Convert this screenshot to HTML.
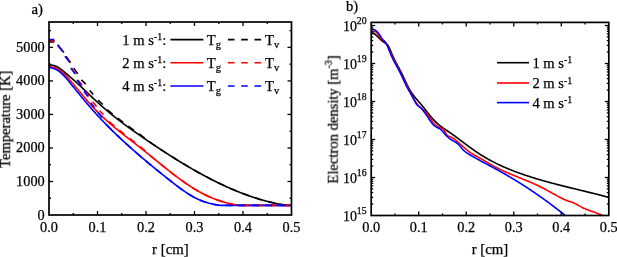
<!DOCTYPE html>
<html><head><meta charset="utf-8"><style>
html,body{margin:0;padding:0;background:#fff;width:617px;height:257px;overflow:hidden}
svg{display:block}
text{font-family:"Liberation Serif",serif;fill:#000;stroke:#000;stroke-width:0.25px;will-change:transform}
</style></head><body>
<svg xmlns="http://www.w3.org/2000/svg" width="617" height="257" viewBox="0 0 617 257">
<defs><clipPath id="cl"><rect x="49.0" y="22.0" width="242.5" height="193.0"/></clipPath><clipPath id="cr"><rect x="371.2" y="22.4" width="237.59999999999997" height="193.1"/></clipPath></defs>
<g clip-path="url(#cl)">
<path d="M49.00,65.00 L49.50,65.00 L50.00,65.00 L50.50,65.01 L51.00,65.05 L51.50,65.11 L52.00,65.19 L52.50,65.28 L53.00,65.38 L53.50,65.48 L54.00,65.59 L54.50,65.73 L55.00,65.90 L55.50,66.09 L56.00,66.30 L56.50,66.52 L57.00,66.76 L57.50,67.00 L58.00,67.27 L58.50,67.57 L59.00,67.90 L59.50,68.24 L60.00,68.60 L60.50,68.97 L61.00,69.35 L61.50,69.73 L62.00,70.10 L62.50,70.48 L63.00,70.87 L63.50,71.27 L64.00,71.68 L64.50,72.09 L65.00,72.52 L65.50,72.95 L66.00,73.38 L66.50,73.81 L67.00,74.23 L67.50,74.65 L68.00,75.08 L68.50,75.51 L69.00,75.94 L69.50,76.38 L70.00,76.82 L70.50,77.26 L71.00,77.71 L71.50,78.15 L72.00,78.58 L72.50,79.02 L73.00,79.45 L73.50,79.89 L74.00,80.33 L74.50,80.77 L75.00,81.21 L75.50,81.66 L76.00,82.11 L76.50,82.56 L77.00,83.01 L77.50,83.47 L78.00,83.93 L78.50,84.38 L79.00,84.84 L79.50,85.31 L80.00,85.77 L80.50,86.23 L81.00,86.70 L81.50,87.17 L82.00,87.63 L82.50,88.10 L83.00,88.57 L83.50,89.05 L84.00,89.52 L84.50,89.99 L85.00,90.46 L85.50,90.94 L86.00,91.41 L86.50,91.89 L87.00,92.36 L87.50,92.83 L88.00,93.31 L88.50,93.79 L89.00,94.26 L89.50,94.74 L90.00,95.21 L90.50,95.68 L91.00,96.16 L91.50,96.63 L92.00,97.10 L92.50,97.58 L93.00,98.05 L93.50,98.52 L94.00,98.99 L94.50,99.46 L95.00,99.93 L95.50,100.39 L96.00,100.86 L96.50,101.32 L97.00,101.78 L97.50,102.24 L98.00,102.70 L98.50,103.16 L99.00,103.62 L99.50,104.07 L100.00,104.52 L100.50,104.97 L101.00,105.42 L101.50,105.87 L102.00,106.31 L102.50,106.75 L103.00,107.19 L103.50,107.63 L104.00,108.07 L104.50,108.50 L105.00,108.93 L105.50,109.36 L106.00,109.79 L106.50,110.21 L107.00,110.64 L107.50,111.06 L108.00,111.48 L108.50,111.90 L109.00,112.31 L109.50,112.73 L110.00,113.14 L110.50,113.55 L111.00,113.96 L111.50,114.37 L112.00,114.78 L112.50,115.18 L113.00,115.58 L113.50,115.98 L114.00,116.38 L114.50,116.78 L115.00,117.18 L115.50,117.57 L116.00,117.96 L116.50,118.36 L117.00,118.75 L117.50,119.14 L118.00,119.52 L118.50,119.91 L119.00,120.29 L119.50,120.68 L120.00,121.06 L120.50,121.44 L121.00,121.82 L121.50,122.20 L122.00,122.57 L122.50,122.95 L123.00,123.32 L123.50,123.70 L124.00,124.07 L124.50,124.44 L125.00,124.81 L125.50,125.18 L126.00,125.54 L126.50,125.91 L127.00,126.28 L127.50,126.64 L128.00,127.00 L128.50,127.37 L129.00,127.73 L129.50,128.09 L130.00,128.45 L130.50,128.81 L131.00,129.16 L131.50,129.52 L132.00,129.88 L132.50,130.23 L133.00,130.59 L133.50,130.94 L134.00,131.29 L134.50,131.65 L135.00,132.00 L135.50,132.35 L136.00,132.70 L136.50,133.05 L137.00,133.40 L137.50,133.75 L138.00,134.10 L138.50,134.44 L139.00,134.79 L139.50,135.14 L140.00,135.48 L140.50,135.83 L141.00,136.18 L141.50,136.52 L142.00,136.86 L142.50,137.21 L143.00,137.55 L143.50,137.90 L144.00,138.24 L144.50,138.58 L145.00,138.92 L145.50,139.27 L146.00,139.61 L146.50,139.95 L147.00,140.29 L147.50,140.63 L148.00,140.97 L148.50,141.31 L149.00,141.65 L149.50,141.99 L150.00,142.32 L150.50,142.66 L151.00,143.00 L151.50,143.34 L152.00,143.67 L152.50,144.01 L153.00,144.35 L153.50,144.68 L154.00,145.02 L154.50,145.35 L155.00,145.68 L155.50,146.02 L156.00,146.35 L156.50,146.68 L157.00,147.01 L157.50,147.35 L158.00,147.68 L158.50,148.01 L159.00,148.34 L159.50,148.67 L160.00,149.00 L160.50,149.32 L161.00,149.65 L161.50,149.98 L162.00,150.31 L162.50,150.63 L163.00,150.96 L163.50,151.28 L164.00,151.61 L164.50,151.93 L165.00,152.26 L165.50,152.58 L166.00,152.90 L166.50,153.23 L167.00,153.55 L167.50,153.87 L168.00,154.19 L168.50,154.51 L169.00,154.83 L169.50,155.15 L170.00,155.47 L170.50,155.78 L171.00,156.10 L171.50,156.42 L172.00,156.73 L172.50,157.05 L173.00,157.36 L173.50,157.68 L174.00,157.99 L174.50,158.30 L175.00,158.61 L175.50,158.93 L176.00,159.24 L176.50,159.55 L177.00,159.86 L177.50,160.17 L178.00,160.47 L178.50,160.78 L179.00,161.09 L179.50,161.40 L180.00,161.70 L180.50,162.01 L181.00,162.31 L181.50,162.62 L182.00,162.92 L182.50,163.22 L183.00,163.52 L183.50,163.82 L184.00,164.12 L184.50,164.42 L185.00,164.72 L185.50,165.02 L186.00,165.32 L186.50,165.62 L187.00,165.91 L187.50,166.21 L188.00,166.50 L188.50,166.80 L189.00,167.09 L189.50,167.38 L190.00,167.67 L190.50,167.96 L191.00,168.25 L191.50,168.54 L192.00,168.83 L192.50,169.12 L193.00,169.41 L193.50,169.69 L194.00,169.98 L194.50,170.26 L195.00,170.55 L195.50,170.83 L196.00,171.12 L196.50,171.40 L197.00,171.68 L197.50,171.96 L198.00,172.24 L198.50,172.52 L199.00,172.79 L199.50,173.07 L200.00,173.35 L200.50,173.62 L201.00,173.90 L201.50,174.17 L202.00,174.44 L202.50,174.72 L203.00,174.99 L203.50,175.26 L204.00,175.53 L204.50,175.79 L205.00,176.06 L205.50,176.33 L206.00,176.60 L206.50,176.86 L207.00,177.13 L207.50,177.39 L208.00,177.65 L208.50,177.91 L209.00,178.17 L209.50,178.43 L210.00,178.69 L210.50,178.95 L211.00,179.21 L211.50,179.46 L212.00,179.72 L212.50,179.97 L213.00,180.23 L213.50,180.48 L214.00,180.73 L214.50,180.98 L215.00,181.23 L215.50,181.48 L216.00,181.73 L216.50,181.97 L217.00,182.22 L217.50,182.47 L218.00,182.71 L218.50,182.95 L219.00,183.19 L219.50,183.44 L220.00,183.68 L220.50,183.92 L221.00,184.15 L221.50,184.39 L222.00,184.63 L222.50,184.86 L223.00,185.10 L223.50,185.33 L224.00,185.56 L224.50,185.79 L225.00,186.02 L225.50,186.25 L226.00,186.48 L226.50,186.71 L227.00,186.93 L227.50,187.16 L228.00,187.38 L228.50,187.60 L229.00,187.83 L229.50,188.05 L230.00,188.27 L230.50,188.49 L231.00,188.70 L231.50,188.92 L232.00,189.14 L232.50,189.35 L233.00,189.56 L233.50,189.77 L234.00,189.99 L234.50,190.20 L235.00,190.40 L235.50,190.61 L236.00,190.82 L236.50,191.03 L237.00,191.23 L237.50,191.43 L238.00,191.64 L238.50,191.84 L239.00,192.04 L239.50,192.24 L240.00,192.43 L240.50,192.63 L241.00,192.82 L241.50,193.02 L242.00,193.21 L242.50,193.40 L243.00,193.59 L243.50,193.78 L244.00,193.97 L244.50,194.16 L245.00,194.35 L245.50,194.53 L246.00,194.72 L246.50,194.90 L247.00,195.08 L247.50,195.26 L248.00,195.44 L248.50,195.62 L249.00,195.79 L249.50,195.97 L250.00,196.14 L250.50,196.31 L251.00,196.49 L251.50,196.66 L252.00,196.83 L252.50,196.99 L253.00,197.16 L253.50,197.33 L254.00,197.49 L254.50,197.65 L255.00,197.81 L255.50,197.98 L256.00,198.13 L256.50,198.29 L257.00,198.45 L257.50,198.60 L258.00,198.76 L258.50,198.91 L259.00,199.06 L259.50,199.21 L260.00,199.36 L260.50,199.51 L261.00,199.66 L261.50,199.80 L262.00,199.94 L262.50,200.09 L263.00,200.23 L263.50,200.37 L264.00,200.51 L264.50,200.64 L265.00,200.78 L265.50,200.91 L266.00,201.05 L266.50,201.18 L267.00,201.31 L267.50,201.44 L268.00,201.56 L268.50,201.69 L269.00,201.82 L269.50,201.94 L270.00,202.06 L270.50,202.18 L271.00,202.30 L271.50,202.42 L272.00,202.54 L272.50,202.65 L273.00,202.76 L273.50,202.88 L274.00,202.99 L274.50,203.10 L275.00,203.21 L275.50,203.31 L276.00,203.42 L276.50,203.52 L277.00,203.62 L277.50,203.72 L278.00,203.82 L278.50,203.92 L279.00,204.02 L279.50,204.11 L280.00,204.21 L280.50,204.30 L281.00,204.39 L281.50,204.48 L282.00,204.57 L282.50,204.65 L283.00,204.74 L283.50,204.82 L284.00,204.90 L284.50,204.98 L285.00,205.06 L285.50,205.14 L286.00,205.22 L286.50,205.29 L287.00,205.36 L287.50,205.40 L288.00,205.40 L288.50,205.40 L289.00,205.40 L289.50,205.40 L290.00,205.40 L290.50,205.40 L291.00,205.40 L291.50,205.40" fill="none" stroke="#000" stroke-width="1.6" stroke-linejoin="round"/>
<path d="M49.00,66.90 L49.50,66.90 L50.00,66.90 L50.50,66.91 L51.00,66.94 L51.50,66.99 L52.00,67.05 L52.50,67.12 L53.00,67.20 L53.50,67.28 L54.00,67.38 L54.50,67.52 L55.00,67.68 L55.50,67.87 L56.00,68.09 L56.50,68.32 L57.00,68.55 L57.50,68.80 L58.00,69.07 L58.50,69.38 L59.00,69.71 L59.50,70.06 L60.00,70.43 L60.50,70.82 L61.00,71.21 L61.50,71.61 L62.00,72.00 L62.50,72.40 L63.00,72.82 L63.50,73.25 L64.00,73.69 L64.50,74.15 L65.00,74.63 L65.50,75.14 L66.00,75.66 L66.50,76.20 L67.00,76.75 L67.50,77.31 L68.00,77.89 L68.50,78.49 L69.00,79.09 L69.50,79.70 L70.00,80.32 L70.50,80.93 L71.00,81.53 L71.50,82.12 L72.00,82.69 L72.50,83.26 L73.00,83.83 L73.50,84.40 L74.00,84.98 L74.50,85.56 L75.00,86.14 L75.50,86.73 L76.00,87.32 L76.50,87.91 L77.00,88.50 L77.50,89.10 L78.00,89.70 L78.50,90.29 L79.00,90.89 L79.50,91.49 L80.00,92.10 L80.50,92.70 L81.00,93.30 L81.50,93.90 L82.00,94.50 L82.50,95.10 L83.00,95.70 L83.50,96.30 L84.00,96.90 L84.50,97.50 L85.00,98.09 L85.50,98.68 L86.00,99.27 L86.50,99.86 L87.00,100.45 L87.50,101.03 L88.00,101.61 L88.50,102.18 L89.00,102.75 L89.50,103.32 L90.00,103.89 L90.50,104.44 L91.00,105.00 L91.50,105.55 L92.00,106.10 L92.50,106.64 L93.00,107.18 L93.50,107.72 L94.00,108.25 L94.50,108.78 L95.00,109.30 L95.50,109.82 L96.00,110.34 L96.50,110.85 L97.00,111.36 L97.50,111.86 L98.00,112.37 L98.50,112.87 L99.00,113.36 L99.50,113.85 L100.00,114.34 L100.50,114.83 L101.00,115.31 L101.50,115.79 L102.00,116.27 L102.50,116.74 L103.00,117.22 L103.50,117.68 L104.00,118.15 L104.50,118.61 L105.00,119.07 L105.50,119.53 L106.00,119.98 L106.50,120.43 L107.00,120.88 L107.50,121.33 L108.00,121.77 L108.50,122.22 L109.00,122.66 L109.50,123.09 L110.00,123.53 L110.50,123.96 L111.00,124.39 L111.50,124.82 L112.00,125.25 L112.50,125.67 L113.00,126.10 L113.50,126.52 L114.00,126.94 L114.50,127.35 L115.00,127.77 L115.50,128.18 L116.00,128.60 L116.50,129.01 L117.00,129.42 L117.50,129.82 L118.00,130.23 L118.50,130.64 L119.00,131.04 L119.50,131.44 L120.00,131.84 L120.50,132.24 L121.00,132.64 L121.50,133.04 L122.00,133.44 L122.50,133.83 L123.00,134.23 L123.50,134.62 L124.00,135.01 L124.50,135.41 L125.00,135.80 L125.50,136.19 L126.00,136.58 L126.50,136.97 L127.00,137.36 L127.50,137.75 L128.00,138.14 L128.50,138.52 L129.00,138.91 L129.50,139.30 L130.00,139.69 L130.50,140.07 L131.00,140.46 L131.50,140.85 L132.00,141.23 L132.50,141.62 L133.00,142.01 L133.50,142.40 L134.00,142.78 L134.50,143.17 L135.00,143.56 L135.50,143.95 L136.00,144.34 L136.50,144.72 L137.00,145.11 L137.50,145.50 L138.00,145.89 L138.50,146.29 L139.00,146.68 L139.50,147.07 L140.00,147.46 L140.50,147.86 L141.00,148.25 L141.50,148.65 L142.00,149.05 L142.50,149.44 L143.00,149.84 L143.50,150.24 L144.00,150.64 L144.50,151.04 L145.00,151.44 L145.50,151.84 L146.00,152.25 L146.50,152.65 L147.00,153.05 L147.50,153.46 L148.00,153.86 L148.50,154.26 L149.00,154.67 L149.50,155.08 L150.00,155.48 L150.50,155.89 L151.00,156.29 L151.50,156.70 L152.00,157.11 L152.50,157.51 L153.00,157.92 L153.50,158.33 L154.00,158.73 L154.50,159.14 L155.00,159.55 L155.50,159.95 L156.00,160.36 L156.50,160.77 L157.00,161.17 L157.50,161.58 L158.00,161.98 L158.50,162.39 L159.00,162.80 L159.50,163.20 L160.00,163.61 L160.50,164.01 L161.00,164.42 L161.50,164.82 L162.00,165.22 L162.50,165.63 L163.00,166.03 L163.50,166.43 L164.00,166.83 L164.50,167.23 L165.00,167.63 L165.50,168.03 L166.00,168.43 L166.50,168.83 L167.00,169.22 L167.50,169.62 L168.00,170.02 L168.50,170.41 L169.00,170.80 L169.50,171.20 L170.00,171.59 L170.50,171.98 L171.00,172.37 L171.50,172.76 L172.00,173.15 L172.50,173.53 L173.00,173.92 L173.50,174.30 L174.00,174.69 L174.50,175.07 L175.00,175.45 L175.50,175.83 L176.00,176.21 L176.50,176.58 L177.00,176.96 L177.50,177.33 L178.00,177.70 L178.50,178.07 L179.00,178.44 L179.50,178.81 L180.00,179.18 L180.50,179.54 L181.00,179.90 L181.50,180.26 L182.00,180.62 L182.50,180.98 L183.00,181.34 L183.50,181.69 L184.00,182.04 L184.50,182.39 L185.00,182.74 L185.50,183.09 L186.00,183.43 L186.50,183.78 L187.00,184.12 L187.50,184.46 L188.00,184.79 L188.50,185.13 L189.00,185.46 L189.50,185.79 L190.00,186.12 L190.50,186.44 L191.00,186.76 L191.50,187.09 L192.00,187.40 L192.50,187.72 L193.00,188.03 L193.50,188.34 L194.00,188.65 L194.50,188.96 L195.00,189.26 L195.50,189.56 L196.00,189.86 L196.50,190.16 L197.00,190.45 L197.50,190.74 L198.00,191.03 L198.50,191.32 L199.00,191.60 L199.50,191.88 L200.00,192.15 L200.50,192.43 L201.00,192.70 L201.50,192.97 L202.00,193.23 L202.50,193.49 L203.00,193.75 L203.50,194.01 L204.00,194.26 L204.50,194.51 L205.00,194.76 L205.50,195.00 L206.00,195.24 L206.50,195.48 L207.00,195.72 L207.50,195.95 L208.00,196.18 L208.50,196.41 L209.00,196.63 L209.50,196.86 L210.00,197.07 L210.50,197.29 L211.00,197.50 L211.50,197.71 L212.00,197.92 L212.50,198.13 L213.00,198.33 L213.50,198.53 L214.00,198.73 L214.50,198.92 L215.00,199.11 L215.50,199.30 L216.00,199.49 L216.50,199.67 L217.00,199.85 L217.50,200.03 L218.00,200.21 L218.50,200.38 L219.00,200.55 L219.50,200.72 L220.00,200.89 L220.50,201.05 L221.00,201.21 L221.50,201.37 L222.00,201.52 L222.50,201.68 L223.00,201.83 L223.50,201.98 L224.00,202.12 L224.50,202.27 L225.00,202.41 L225.50,202.55 L226.00,202.68 L226.50,202.82 L227.00,202.95 L227.50,203.08 L228.00,203.21 L228.50,203.33 L229.00,203.46 L229.50,203.58 L230.00,203.69 L230.50,203.81 L231.00,203.92 L231.50,204.04 L232.00,204.15 L232.50,204.25 L233.00,204.36 L233.50,204.46 L234.00,204.56 L234.50,204.66 L235.00,204.76 L235.50,204.85 L236.00,204.94 L236.50,205.03 L237.00,205.12 L237.50,205.21 L238.00,205.29 L238.50,205.37 L239.00,205.40 L239.50,205.40 L240.00,205.40 L240.50,205.40 L241.00,205.40 L241.50,205.40 L242.00,205.40 L242.50,205.40 L243.00,205.40 L243.50,205.40 L244.00,205.40 L244.50,205.40 L245.00,205.40 L245.50,205.40 L246.00,205.40 L246.50,205.40 L247.00,205.40 L247.50,205.40 L248.00,205.40 L248.50,205.40 L249.00,205.40 L249.50,205.40 L250.00,205.40 L250.50,205.40 L251.00,205.40 L251.50,205.40 L252.00,205.40 L252.50,205.40 L253.00,205.40 L253.50,205.40 L254.00,205.40 L254.50,205.40 L255.00,205.40 L255.50,205.40 L256.00,205.40 L256.50,205.40 L257.00,205.40 L257.50,205.40 L258.00,205.40 L258.50,205.40 L259.00,205.40 L259.50,205.40 L260.00,205.40 L260.50,205.40 L261.00,205.40 L261.50,205.40 L262.00,205.40 L262.50,205.40 L263.00,205.40 L263.50,205.40 L264.00,205.40 L264.50,205.40 L265.00,205.40 L265.50,205.40 L266.00,205.40 L266.50,205.40 L267.00,205.40 L267.50,205.40 L268.00,205.40 L268.50,205.40 L269.00,205.40 L269.50,205.40 L270.00,205.40 L270.50,205.40 L271.00,205.40 L271.50,205.40 L272.00,205.40 L272.50,205.40 L273.00,205.40 L273.50,205.40 L274.00,205.40 L274.50,205.40 L275.00,205.40 L275.50,205.40 L276.00,205.40 L276.50,205.40 L277.00,205.40 L277.50,205.40 L278.00,205.40 L278.50,205.40 L279.00,205.40 L279.50,205.40 L280.00,205.40 L280.50,205.40 L281.00,205.40 L281.50,205.40 L282.00,205.40 L282.50,205.40 L283.00,205.40 L283.50,205.40 L284.00,205.40 L284.50,205.40 L285.00,205.40 L285.50,205.40 L286.00,205.40 L286.50,205.40 L287.00,205.40 L287.50,205.40 L288.00,205.40 L288.50,205.40 L289.00,205.40 L289.50,205.40 L290.00,205.40 L290.50,205.40 L291.00,205.40 L291.50,205.40" fill="none" stroke="#f00" stroke-width="1.6" stroke-linejoin="round"/>
<path d="M49.00,67.80 L49.50,67.80 L50.00,67.80 L50.50,67.82 L51.00,67.88 L51.50,67.97 L52.00,68.08 L52.50,68.20 L53.00,68.34 L53.50,68.47 L54.00,68.62 L54.50,68.78 L55.00,68.98 L55.50,69.19 L56.00,69.42 L56.50,69.67 L57.00,69.94 L57.50,70.21 L58.00,70.53 L58.50,70.88 L59.00,71.27 L59.50,71.68 L60.00,72.10 L60.50,72.55 L61.00,73.00 L61.50,73.45 L62.00,73.90 L62.50,74.36 L63.00,74.83 L63.50,75.32 L64.00,75.82 L64.50,76.34 L65.00,76.87 L65.50,77.42 L66.00,77.98 L66.50,78.55 L67.00,79.13 L67.50,79.71 L68.00,80.31 L68.50,80.92 L69.00,81.55 L69.50,82.18 L70.00,82.83 L70.50,83.47 L71.00,84.10 L71.50,84.72 L72.00,85.32 L72.50,85.92 L73.00,86.52 L73.50,87.12 L74.00,87.72 L74.50,88.33 L75.00,88.94 L75.50,89.55 L76.00,90.16 L76.50,90.77 L77.00,91.39 L77.50,92.01 L78.00,92.62 L78.50,93.24 L79.00,93.85 L79.50,94.47 L80.00,95.09 L80.50,95.70 L81.00,96.32 L81.50,96.93 L82.00,97.54 L82.50,98.15 L83.00,98.76 L83.50,99.36 L84.00,99.96 L84.50,100.56 L85.00,101.16 L85.50,101.76 L86.00,102.35 L86.50,102.94 L87.00,103.53 L87.50,104.12 L88.00,104.70 L88.50,105.28 L89.00,105.86 L89.50,106.44 L90.00,107.01 L90.50,107.59 L91.00,108.16 L91.50,108.72 L92.00,109.29 L92.50,109.86 L93.00,110.42 L93.50,110.98 L94.00,111.54 L94.50,112.09 L95.00,112.64 L95.50,113.20 L96.00,113.75 L96.50,114.29 L97.00,114.84 L97.50,115.38 L98.00,115.93 L98.50,116.46 L99.00,117.00 L99.50,117.54 L100.00,118.07 L100.50,118.60 L101.00,119.14 L101.50,119.66 L102.00,120.19 L102.50,120.71 L103.00,121.24 L103.50,121.76 L104.00,122.28 L104.50,122.80 L105.00,123.31 L105.50,123.83 L106.00,124.34 L106.50,124.85 L107.00,125.36 L107.50,125.86 L108.00,126.37 L108.50,126.87 L109.00,127.38 L109.50,127.88 L110.00,128.38 L110.50,128.87 L111.00,129.37 L111.50,129.86 L112.00,130.36 L112.50,130.85 L113.00,131.34 L113.50,131.83 L114.00,132.31 L114.50,132.80 L115.00,133.28 L115.50,133.76 L116.00,134.25 L116.50,134.73 L117.00,135.20 L117.50,135.68 L118.00,136.16 L118.50,136.63 L119.00,137.10 L119.50,137.57 L120.00,138.04 L120.50,138.51 L121.00,138.98 L121.50,139.45 L122.00,139.91 L122.50,140.38 L123.00,140.84 L123.50,141.30 L124.00,141.76 L124.50,142.22 L125.00,142.68 L125.50,143.13 L126.00,143.59 L126.50,144.04 L127.00,144.50 L127.50,144.95 L128.00,145.40 L128.50,145.85 L129.00,146.30 L129.50,146.75 L130.00,147.19 L130.50,147.64 L131.00,148.09 L131.50,148.53 L132.00,148.97 L132.50,149.41 L133.00,149.86 L133.50,150.30 L134.00,150.74 L134.50,151.17 L135.00,151.61 L135.50,152.05 L136.00,152.48 L136.50,152.92 L137.00,153.35 L137.50,153.79 L138.00,154.22 L138.50,154.65 L139.00,155.08 L139.50,155.51 L140.00,155.94 L140.50,156.37 L141.00,156.79 L141.50,157.22 L142.00,157.65 L142.50,158.07 L143.00,158.50 L143.50,158.92 L144.00,159.34 L144.50,159.76 L145.00,160.18 L145.50,160.60 L146.00,161.02 L146.50,161.44 L147.00,161.86 L147.50,162.28 L148.00,162.69 L148.50,163.11 L149.00,163.53 L149.50,163.94 L150.00,164.36 L150.50,164.77 L151.00,165.18 L151.50,165.59 L152.00,166.00 L152.50,166.42 L153.00,166.83 L153.50,167.24 L154.00,167.64 L154.50,168.05 L155.00,168.46 L155.50,168.87 L156.00,169.28 L156.50,169.68 L157.00,170.09 L157.50,170.49 L158.00,170.90 L158.50,171.30 L159.00,171.71 L159.50,172.11 L160.00,172.51 L160.50,172.91 L161.00,173.31 L161.50,173.72 L162.00,174.12 L162.50,174.52 L163.00,174.92 L163.50,175.32 L164.00,175.72 L164.50,176.11 L165.00,176.51 L165.50,176.91 L166.00,177.31 L166.50,177.71 L167.00,178.10 L167.50,178.50 L168.00,178.89 L168.50,179.29 L169.00,179.69 L169.50,180.08 L170.00,180.47 L170.50,180.87 L171.00,181.26 L171.50,181.66 L172.00,182.05 L172.50,182.44 L173.00,182.83 L173.50,183.22 L174.00,183.61 L174.50,184.00 L175.00,184.38 L175.50,184.77 L176.00,185.15 L176.50,185.53 L177.00,185.91 L177.50,186.29 L178.00,186.67 L178.50,187.04 L179.00,187.41 L179.50,187.79 L180.00,188.15 L180.50,188.52 L181.00,188.88 L181.50,189.25 L182.00,189.60 L182.50,189.96 L183.00,190.31 L183.50,190.67 L184.00,191.01 L184.50,191.36 L185.00,191.70 L185.50,192.04 L186.00,192.37 L186.50,192.71 L187.00,193.04 L187.50,193.36 L188.00,193.68 L188.50,194.00 L189.00,194.31 L189.50,194.62 L190.00,194.93 L190.50,195.23 L191.00,195.53 L191.50,195.82 L192.00,196.11 L192.50,196.40 L193.00,196.68 L193.50,196.96 L194.00,197.23 L194.50,197.49 L195.00,197.75 L195.50,198.01 L196.00,198.26 L196.50,198.51 L197.00,198.75 L197.50,198.99 L198.00,199.22 L198.50,199.45 L199.00,199.67 L199.50,199.89 L200.00,200.10 L200.50,200.31 L201.00,200.51 L201.50,200.71 L202.00,200.91 L202.50,201.10 L203.00,201.29 L203.50,201.47 L204.00,201.65 L204.50,201.82 L205.00,201.99 L205.50,202.16 L206.00,202.32 L206.50,202.48 L207.00,202.63 L207.50,202.78 L208.00,202.92 L208.50,203.07 L209.00,203.20 L209.50,203.34 L210.00,203.47 L210.50,203.59 L211.00,203.72 L211.50,203.83 L212.00,203.95 L212.50,204.06 L213.00,204.17 L213.50,204.27 L214.00,204.38 L214.50,204.47 L215.00,204.57 L215.50,204.66 L216.00,204.75 L216.50,204.83 L217.00,204.92 L217.50,204.99 L218.00,205.07 L218.50,205.14 L219.00,205.21 L219.50,205.28 L220.00,205.34 L220.50,205.40 L221.00,205.40 L221.50,205.40 L222.00,205.40 L222.50,205.40 L223.00,205.40 L223.50,205.40 L224.00,205.40 L224.50,205.40 L225.00,205.40 L225.50,205.40 L226.00,205.40 L226.50,205.40 L227.00,205.40 L227.50,205.40 L228.00,205.40 L228.50,205.40 L229.00,205.40 L229.50,205.40 L230.00,205.40 L230.50,205.40 L231.00,205.40 L231.50,205.40 L232.00,205.40 L232.50,205.40 L233.00,205.40 L233.50,205.40 L234.00,205.40 L234.50,205.40 L235.00,205.40 L235.50,205.40 L236.00,205.40 L236.50,205.40 L237.00,205.40 L237.50,205.40 L238.00,205.40 L238.50,205.40 L239.00,205.40 L239.50,205.40 L240.00,205.40 L240.50,205.40 L241.00,205.40 L241.50,205.40 L242.00,205.40 L242.50,205.40 L243.00,205.40 L243.50,205.40 L244.00,205.40 L244.50,205.40 L245.00,205.40 L245.50,205.40 L246.00,205.40 L246.50,205.40 L247.00,205.40 L247.50,205.40 L248.00,205.40 L248.50,205.40 L249.00,205.40 L249.50,205.40 L250.00,205.40 L250.50,205.40 L251.00,205.40 L251.50,205.40 L252.00,205.40 L252.50,205.40 L253.00,205.40 L253.50,205.40 L254.00,205.40 L254.50,205.40 L255.00,205.40 L255.50,205.40 L256.00,205.40 L256.50,205.40 L257.00,205.40 L257.50,205.40 L258.00,205.40 L258.50,205.40 L259.00,205.40 L259.50,205.40 L260.00,205.40 L260.50,205.40 L261.00,205.40 L261.50,205.40 L262.00,205.40 L262.50,205.40 L263.00,205.40 L263.50,205.40 L264.00,205.40 L264.50,205.40 L265.00,205.40 L265.50,205.40 L266.00,205.40 L266.50,205.40 L267.00,205.40 L267.50,205.40 L268.00,205.40 L268.50,205.40 L269.00,205.40 L269.50,205.40 L270.00,205.40 L270.50,205.40 L271.00,205.40 L271.50,205.40 L272.00,205.40 L272.50,205.40 L273.00,205.40 L273.50,205.40 L274.00,205.40 L274.50,205.40 L275.00,205.40 L275.50,205.40 L276.00,205.40 L276.50,205.40 L277.00,205.40 L277.50,205.40 L278.00,205.40 L278.50,205.40 L279.00,205.40 L279.50,205.40 L280.00,205.40 L280.50,205.40 L281.00,205.40 L281.50,205.40 L282.00,205.40 L282.50,205.40 L283.00,205.40 L283.50,205.40 L284.00,205.40 L284.50,205.40 L285.00,205.40 L285.50,205.40 L286.00,205.40 L286.50,205.40 L287.00,205.40 L287.50,205.40 L288.00,205.40 L288.50,205.40 L289.00,205.40 L289.50,205.40 L290.00,205.40 L290.50,205.40 L291.00,205.40 L291.50,205.40" fill="none" stroke="#00f" stroke-width="1.6" stroke-linejoin="round"/>
<path d="M107.30,109.69 L108.30,110.54 L109.30,111.38 L110.30,112.21 L111.30,113.03 L112.30,113.85 L113.30,114.66 L114.30,115.47 L115.30,116.26 L116.30,117.06 L117.30,117.84 L118.30,118.62 L119.30,119.40 L120.30,120.17 L121.30,120.93 L122.30,121.69 L123.30,122.45 L124.30,123.19 L125.30,123.94 L126.30,124.68 L127.30,125.42 L128.30,126.15 L129.30,126.88 L130.30,127.60 L131.30,128.33 L132.30,129.04 L133.30,129.76 L134.30,130.47 L135.30,131.18 L136.30,131.89 L137.30,132.59 L138.30,133.30 L139.30,134.00 L140.30,134.72 L141.30,135.49 L142.30,136.26 L143.30,137.03 L144.30,137.80 L145.30,138.57 L146.30,139.34 L147.30,140.10 L148.30,140.86 L149.30,141.63 L150.30,142.39 L151.30,143.14 L152.30,143.88 L153.30,144.55 L154.30,145.22 L155.30,145.88 L156.30,146.55 L157.30,147.21 L158.30,147.88 L159.30,148.53 L160.30,149.19 L161.30,149.85 L162.30,150.50 L163.30,151.15 L164.30,151.80 L165.30,152.45 L166.30,153.10 L167.30,153.74 L168.30,154.38 L169.30,155.02 L170.30,155.66 L171.30,156.29 L172.30,156.92 L173.30,157.55 L174.30,158.18 L175.30,158.80 L176.30,159.42 L177.30,160.04 L178.30,160.66 L179.30,161.27 L180.30,161.88 L181.30,162.49 L182.30,163.10 L183.30,163.70 L184.30,164.30 L185.30,164.90 L186.30,165.50 L187.30,166.09 L188.30,166.68 L189.30,167.26 L190.30,167.85 L191.30,168.43 L192.30,169.01 L193.30,169.58 L194.30,170.15 L195.30,170.72 L196.30,171.28 L197.30,171.85 L198.30,172.40 L199.30,172.96 L200.30,173.51 L201.30,174.06 L202.30,174.61 L203.30,175.15 L204.30,175.69 L205.30,176.22 L206.30,176.75 L207.30,177.28 L208.30,177.81 L209.30,178.33 L210.30,178.85 L211.30,179.36 L212.30,179.87 L213.30,180.38 L214.30,180.88 L215.30,181.38 L216.30,181.88 L217.30,182.37 L218.30,182.86 L219.30,183.34 L220.30,183.82 L221.30,184.30 L222.30,184.77 L223.30,185.24 L224.30,185.70 L225.30,186.16 L226.30,186.62 L227.30,187.07 L228.30,187.52 L229.30,187.96 L230.30,188.40 L231.30,188.83 L232.30,189.26 L233.30,189.69 L234.30,190.11 L235.30,190.53 L236.30,190.94 L237.30,191.35 L238.30,191.76 L239.30,192.16 L240.30,192.55 L241.30,192.94 L242.30,193.33 L243.30,193.71 L244.30,194.09 L245.30,194.46 L246.30,194.82 L247.30,195.19 L248.30,195.54 L249.30,195.90 L250.30,196.25 L251.30,196.59 L252.30,196.93 L253.30,197.26 L254.30,197.59 L255.30,197.91 L256.30,198.23 L257.30,198.54 L258.30,198.85 L259.30,199.15 L260.30,199.45 L261.30,199.74 L262.30,200.03 L263.30,200.31 L264.30,200.59 L265.30,200.86 L266.30,201.13 L267.30,201.39 L268.30,201.64 L269.30,201.89 L270.30,202.13 L271.30,202.37 L272.30,202.60 L273.30,202.83 L274.30,203.05 L275.30,203.27 L276.30,203.48 L277.30,203.68 L278.30,203.88 L279.30,204.08 L280.30,204.26 L281.30,204.44 L282.30,204.62 L283.30,204.79 L284.30,204.95 L285.30,205.11 L286.30,205.26 L287.30,205.40 L288.30,205.40 L289.30,205.40 L290.30,205.40 L291.30,205.40" fill="none" stroke="#000" stroke-width="1.6" stroke-linejoin="round" stroke-dasharray="7 6.3" stroke-dashoffset="0"/>
<line x1="49" y1="41.9" x2="54.4" y2="42.0" stroke="#000" stroke-width="1.6"/>
<line x1="58.3" y1="46.0" x2="63.9" y2="52.6" stroke="#000" stroke-width="1.6"/>
<line x1="66.2" y1="56.4" x2="70.3" y2="62.8" stroke="#000" stroke-width="1.6"/>
<line x1="73.8" y1="68.1" x2="77.8" y2="73.9" stroke="#000" stroke-width="1.6"/>
<line x1="81.5" y1="79.9" x2="85.8" y2="84.3" stroke="#000" stroke-width="1.6"/>
<line x1="89.8" y1="90.5" x2="93.2" y2="94.6" stroke="#000" stroke-width="1.6"/>
<line x1="98.1" y1="100.2" x2="102.8" y2="104.5" stroke="#000" stroke-width="1.6"/>
<path d="M107.50,120.13 L108.50,121.03 L109.50,121.91 L110.50,122.78 L111.50,123.65 L112.50,124.51 L113.50,125.36 L114.50,126.20 L115.50,127.04 L116.50,127.86 L117.50,128.69 L118.50,129.50 L119.50,130.32 L120.50,131.12 L121.50,131.93 L122.50,132.73 L123.50,133.52 L124.50,134.31 L125.50,135.10 L126.50,135.89 L127.50,136.67 L128.50,137.45 L129.50,138.24 L130.50,139.02 L131.50,139.80 L132.50,140.58 L133.50,141.36 L134.50,142.14 L135.50,142.92 L136.50,143.70 L137.50,144.49 L138.50,145.28 L139.50,146.07 L140.50,146.90 L141.50,147.77 L142.50,148.65 L143.50,149.53 L144.50,150.42 L145.50,151.30 L146.50,152.19 L147.50,153.08 L148.50,153.97 L149.50,154.87 L150.50,155.76 L151.50,156.66 L152.50,157.51 L153.50,158.33 L154.50,159.14 L155.50,159.95 L156.50,160.77 L157.50,161.58 L158.50,162.39 L159.50,163.20 L160.50,164.01 L161.50,164.82 L162.50,165.63 L163.50,166.43 L164.50,167.23 L165.50,168.03 L166.50,168.83 L167.50,169.62 L168.50,170.41 L169.50,171.20 L170.50,171.98 L171.50,172.76 L172.50,173.53 L173.50,174.30 L174.50,175.07 L175.50,175.83 L176.50,176.58 L177.50,177.33 L178.50,178.07 L179.50,178.81 L180.50,179.54 L181.50,180.26 L182.50,180.98 L183.50,181.69 L184.50,182.39 L185.50,183.09 L186.50,183.78 L187.50,184.46 L188.50,185.13 L189.50,185.79 L190.50,186.44 L191.50,187.09 L192.50,187.72 L193.50,188.34 L194.50,188.96 L195.50,189.56 L196.50,190.16 L197.50,190.74 L198.50,191.32 L199.50,191.88 L200.50,192.43 L201.50,192.97 L202.50,193.49 L203.50,194.01 L204.50,194.51 L205.50,195.00 L206.50,195.48 L207.50,195.95 L208.50,196.41 L209.50,196.86 L210.50,197.29 L211.50,197.71 L212.50,198.13 L213.50,198.53 L214.50,198.92 L215.50,199.30 L216.50,199.67 L217.50,200.03 L218.50,200.38 L219.50,200.72 L220.50,201.05 L221.50,201.37 L222.50,201.68 L223.50,201.98 L224.50,202.27 L225.50,202.55 L226.50,202.82 L227.50,203.08 L228.50,203.33 L229.50,203.58 L230.50,203.81 L231.50,204.04 L232.50,204.25 L233.50,204.46 L234.50,204.66 L235.50,204.85 L236.50,205.03 L237.50,205.21 L238.50,205.37 L239.50,205.40 L240.50,205.40 L241.50,205.40 L242.50,205.40 L243.50,205.40 L244.50,205.40 L245.50,205.40 L246.50,205.40 L247.50,205.40 L248.50,205.40 L249.50,205.40 L250.50,205.40 L251.50,205.40 L252.50,205.40 L253.50,205.40 L254.50,205.40 L255.50,205.40 L256.50,205.40 L257.50,205.40 L258.50,205.40 L259.50,205.40 L260.50,205.40 L261.50,205.40 L262.50,205.40 L263.50,205.40 L264.50,205.40 L265.50,205.40 L266.50,205.40 L267.50,205.40 L268.50,205.40 L269.50,205.40 L270.50,205.40 L271.50,205.40 L272.50,205.40 L273.50,205.40 L274.50,205.40 L275.50,205.40 L276.50,205.40 L277.50,205.40 L278.50,205.40 L279.50,205.40 L280.50,205.40 L281.50,205.40 L282.50,205.40 L283.50,205.40 L284.50,205.40 L285.50,205.40 L286.50,205.40 L287.50,205.40 L288.50,205.40 L289.50,205.40 L290.50,205.40 L291.50,205.40" fill="none" stroke="#f00" stroke-width="1.6" stroke-linejoin="round" stroke-dasharray="7 6.3" stroke-dashoffset="11.2"/>
<line x1="49" y1="40.6" x2="54.8" y2="40.7" stroke="#f00" stroke-width="1.6"/>
<line x1="57.9" y1="45.1" x2="63.1" y2="51.7" stroke="#f00" stroke-width="1.6"/>
<line x1="65.5" y1="56.5" x2="70.3" y2="62.5" stroke="#f00" stroke-width="1.6"/>
<line x1="71.6" y1="68.1" x2="75.8" y2="74.0" stroke="#f00" stroke-width="1.6"/>
<line x1="78.0" y1="80.0" x2="82.2" y2="85.4" stroke="#f00" stroke-width="1.6"/>
<line x1="85.3" y1="91.5" x2="89.0" y2="96.3" stroke="#f00" stroke-width="1.6"/>
<line x1="92.7" y1="101.7" x2="96.6" y2="106.4" stroke="#f00" stroke-width="1.6"/>
<line x1="99.7" y1="110.8" x2="103.5" y2="114.8" stroke="#f00" stroke-width="1.6"/>
<path d="M105.30,123.06 L106.30,124.20 L107.30,125.34 L108.30,126.47 L109.30,127.59 L110.30,128.68 L111.30,129.67 L112.30,130.65 L113.30,131.63 L114.30,132.60 L115.30,133.57 L116.30,134.53 L117.30,135.49 L118.30,136.44 L119.30,137.39 L120.30,138.33 L121.30,139.26 L122.30,140.19 L123.30,141.11 L124.30,142.03 L125.30,142.95 L126.30,143.86 L127.30,144.77 L128.30,145.67 L129.30,146.57 L130.30,147.46 L131.30,148.35 L132.30,149.24 L133.30,150.12 L134.30,151.00 L135.30,151.87 L136.30,152.75 L137.30,153.61 L138.30,154.48 L139.30,155.34 L140.30,156.20 L141.30,157.05 L142.30,157.90 L143.30,158.75 L144.30,159.59 L145.30,160.44 L146.30,161.28 L147.30,162.11 L148.30,162.94 L149.30,163.78 L150.30,164.60 L151.30,165.43 L152.30,166.25 L153.30,167.07 L154.30,167.89 L155.30,168.71 L156.30,169.52 L157.30,170.33 L158.30,171.14 L159.30,171.95 L160.30,172.75 L161.30,173.56 L162.30,174.36 L163.30,175.16 L164.30,175.95 L165.30,176.75 L166.30,177.55 L167.30,178.34 L168.30,179.13 L169.30,179.92 L170.30,180.71 L171.30,181.50 L172.30,182.28 L173.30,183.06 L174.30,183.84 L175.30,184.61 L176.30,185.38 L177.30,186.14 L178.30,186.89 L179.30,187.64 L180.30,188.37 L181.30,189.10 L182.30,189.82 L183.30,190.53 L184.30,191.22 L185.30,191.90 L186.30,192.57 L187.30,193.23 L188.30,193.87 L189.30,194.50 L190.30,195.11 L191.30,195.71 L192.30,196.29 L193.30,196.85 L194.30,197.39 L195.30,197.91 L196.30,198.41 L197.30,198.89 L198.30,199.36 L199.30,199.80 L200.30,200.23 L201.30,200.64 L202.30,201.03 L203.30,201.40 L204.30,201.75 L205.30,202.09 L206.30,202.41 L207.30,202.72 L208.30,203.01 L209.30,203.28 L210.30,203.54 L211.30,203.79 L212.30,204.02 L213.30,204.23 L214.30,204.44 L215.30,204.62 L216.30,204.80 L217.30,204.96 L218.30,205.11 L219.30,205.25 L220.30,205.38 L221.30,205.40 L222.30,205.40 L223.30,205.40 L224.30,205.40 L225.30,205.40 L226.30,205.40 L227.30,205.40 L228.30,205.40 L229.30,205.40 L230.30,205.40 L231.30,205.40 L232.30,205.40 L233.30,205.40 L234.30,205.40 L235.30,205.40 L236.30,205.40 L237.30,205.40 L238.30,205.40 L239.30,205.40 L240.30,205.40 L241.30,205.40 L242.30,205.40 L243.30,205.40 L244.30,205.40 L245.30,205.40 L246.30,205.40 L247.30,205.40 L248.30,205.40 L249.30,205.40 L250.30,205.40 L251.30,205.40 L252.30,205.40 L253.30,205.40 L254.30,205.40 L255.30,205.40 L256.30,205.40 L257.30,205.40 L258.30,205.40 L259.30,205.40 L260.30,205.40 L261.30,205.40 L262.30,205.40 L263.30,205.40 L264.30,205.40 L265.30,205.40 L266.30,205.40 L267.30,205.40 L268.30,205.40 L269.30,205.40 L270.30,205.40 L271.30,205.40 L272.30,205.40 L273.30,205.40 L274.30,205.40 L275.30,205.40 L276.30,205.40 L277.30,205.40 L278.30,205.40 L279.30,205.40 L280.30,205.40 L281.30,205.40 L282.30,205.40 L283.30,205.40 L284.30,205.40 L285.30,205.40 L286.30,205.40 L287.30,205.40 L288.30,205.40 L289.30,205.40 L290.30,205.40 L291.30,205.40" fill="none" stroke="#00f" stroke-width="1.6" stroke-linejoin="round" stroke-dasharray="7 6.3" stroke-dashoffset="10.989"/>
<line x1="49" y1="39.5" x2="54.3" y2="39.6" stroke="#00f" stroke-width="1.6"/>
<line x1="57.5" y1="44.8" x2="62.7" y2="51.4" stroke="#00f" stroke-width="1.6"/>
<line x1="64.9" y1="56.3" x2="69.8" y2="62.3" stroke="#00f" stroke-width="1.6"/>
<line x1="70.8" y1="68.0" x2="75.0" y2="73.9" stroke="#00f" stroke-width="1.6"/>
<line x1="77.0" y1="80.0" x2="81.2" y2="85.2" stroke="#00f" stroke-width="1.6"/>
<line x1="84.0" y1="91.2" x2="87.9" y2="96.4" stroke="#00f" stroke-width="1.6"/>
<line x1="90.7" y1="102.8" x2="94.5" y2="107.5" stroke="#00f" stroke-width="1.6"/>
<line x1="98.1" y1="112.6" x2="102.1" y2="117.6" stroke="#00f" stroke-width="1.6"/>
</g><g clip-path="url(#cr)">
<path d="M371.20,32.13 L371.70,32.27 L372.20,32.46 L372.70,32.70 L373.20,32.97 L373.70,33.28 L374.20,33.62 L374.70,34.00 L375.20,34.40 L375.70,34.82 L376.20,35.26 L376.70,35.73 L377.20,36.20 L377.70,36.68 L378.20,37.18 L378.70,37.67 L379.20,38.17 L379.70,38.66 L380.20,39.15 L380.70,39.63 L381.20,40.09 L381.70,40.55 L382.20,40.98 L382.70,41.39 L383.20,41.77 L383.70,42.12 L384.20,42.44 L384.70,42.74 L385.20,43.03 L385.70,43.34 L386.20,43.69 L386.70,44.09 L387.20,44.56 L387.70,45.14 L388.20,45.83 L388.70,46.66 L389.20,47.63 L389.70,48.71 L390.20,49.86 L390.70,51.06 L391.20,52.28 L391.70,53.48 L392.20,54.64 L392.70,55.77 L393.20,56.88 L393.70,57.95 L394.20,59.00 L394.70,60.03 L395.20,61.04 L395.70,62.03 L396.20,63.01 L396.70,63.97 L397.20,64.92 L397.70,65.86 L398.20,66.80 L398.70,67.73 L399.20,68.66 L399.70,69.60 L400.20,70.54 L400.70,71.49 L401.20,72.45 L401.70,73.43 L402.20,74.43 L402.70,75.45 L403.20,76.49 L403.70,77.55 L404.20,78.61 L404.70,79.69 L405.20,80.76 L405.70,81.83 L406.20,82.90 L406.70,83.94 L407.20,84.98 L407.70,85.98 L408.20,86.96 L408.70,87.90 L409.20,88.81 L409.70,89.69 L410.20,90.53 L410.70,91.34 L411.20,92.12 L411.70,92.88 L412.20,93.61 L412.70,94.32 L413.20,95.00 L413.70,95.67 L414.20,96.32 L414.70,96.95 L415.20,97.57 L415.70,98.18 L416.20,98.77 L416.70,99.36 L417.20,99.94 L417.70,100.51 L418.20,101.09 L418.70,101.66 L419.20,102.23 L419.70,102.80 L420.20,103.38 L420.70,103.96 L421.20,104.55 L421.70,105.15 L422.20,105.76 L422.70,106.37 L423.20,106.99 L423.70,107.62 L424.20,108.25 L424.70,108.89 L425.20,109.53 L425.70,110.17 L426.20,110.81 L426.70,111.45 L427.20,112.09 L427.70,112.72 L428.20,113.35 L428.70,113.98 L429.20,114.60 L429.70,115.21 L430.20,115.82 L430.70,116.42 L431.20,117.01 L431.70,117.59 L432.20,118.16 L432.70,118.72 L433.20,119.28 L433.70,119.82 L434.20,120.35 L434.70,120.88 L435.20,121.39 L435.70,121.89 L436.20,122.38 L436.70,122.85 L437.20,123.32 L437.70,123.77 L438.20,124.20 L438.70,124.63 L439.20,125.04 L439.70,125.45 L440.20,125.84 L440.70,126.23 L441.20,126.61 L441.70,126.98 L442.20,127.34 L442.70,127.70 L443.20,128.05 L443.70,128.40 L444.20,128.74 L444.70,129.08 L445.20,129.42 L445.70,129.75 L446.20,130.09 L446.70,130.42 L447.20,130.76 L447.70,131.09 L448.20,131.43 L448.70,131.77 L449.20,132.11 L449.70,132.45 L450.20,132.80 L450.70,133.15 L451.20,133.50 L451.70,133.85 L452.20,134.20 L452.70,134.56 L453.20,134.92 L453.70,135.28 L454.20,135.64 L454.70,136.00 L455.20,136.37 L455.70,136.73 L456.20,137.10 L456.70,137.47 L457.20,137.84 L457.70,138.21 L458.20,138.58 L458.70,138.95 L459.20,139.33 L459.70,139.70 L460.20,140.07 L460.70,140.45 L461.20,140.82 L461.70,141.20 L462.20,141.57 L462.70,141.95 L463.20,142.32 L463.70,142.70 L464.20,143.07 L464.70,143.45 L465.20,143.82 L465.70,144.19 L466.20,144.57 L466.70,144.94 L467.20,145.31 L467.70,145.68 L468.20,146.05 L468.70,146.42 L469.20,146.79 L469.70,147.15 L470.20,147.52 L470.70,147.88 L471.20,148.24 L471.70,148.60 L472.20,148.96 L472.70,149.32 L473.20,149.67 L473.70,150.02 L474.20,150.37 L474.70,150.72 L475.20,151.07 L475.70,151.41 L476.20,151.75 L476.70,152.09 L477.20,152.43 L477.70,152.76 L478.20,153.09 L478.70,153.42 L479.20,153.75 L479.70,154.07 L480.20,154.39 L480.70,154.71 L481.20,155.02 L481.70,155.34 L482.20,155.65 L482.70,155.95 L483.20,156.26 L483.70,156.56 L484.20,156.86 L484.70,157.16 L485.20,157.46 L485.70,157.75 L486.20,158.04 L486.70,158.33 L487.20,158.61 L487.70,158.90 L488.20,159.18 L488.70,159.46 L489.20,159.74 L489.70,160.01 L490.20,160.28 L490.70,160.56 L491.20,160.82 L491.70,161.09 L492.20,161.35 L492.70,161.62 L493.20,161.88 L493.70,162.14 L494.20,162.39 L494.70,162.65 L495.20,162.90 L495.70,163.15 L496.20,163.40 L496.70,163.64 L497.20,163.89 L497.70,164.13 L498.20,164.37 L498.70,164.61 L499.20,164.84 L499.70,165.08 L500.20,165.31 L500.70,165.54 L501.20,165.77 L501.70,166.00 L502.20,166.23 L502.70,166.45 L503.20,166.68 L503.70,166.90 L504.20,167.12 L504.70,167.34 L505.20,167.55 L505.70,167.77 L506.20,167.98 L506.70,168.19 L507.20,168.40 L507.70,168.61 L508.20,168.82 L508.70,169.03 L509.20,169.23 L509.70,169.43 L510.20,169.63 L510.70,169.84 L511.20,170.03 L511.70,170.23 L512.20,170.43 L512.70,170.62 L513.20,170.82 L513.70,171.01 L514.20,171.20 L514.70,171.39 L515.20,171.58 L515.70,171.77 L516.20,171.95 L516.70,172.14 L517.20,172.32 L517.70,172.51 L518.20,172.69 L518.70,172.87 L519.20,173.05 L519.70,173.23 L520.20,173.41 L520.70,173.59 L521.20,173.76 L521.70,173.94 L522.20,174.11 L522.70,174.29 L523.20,174.46 L523.70,174.63 L524.20,174.80 L524.70,174.97 L525.20,175.14 L525.70,175.31 L526.20,175.47 L526.70,175.64 L527.20,175.81 L527.70,175.97 L528.20,176.13 L528.70,176.30 L529.20,176.46 L529.70,176.62 L530.20,176.78 L530.70,176.94 L531.20,177.10 L531.70,177.26 L532.20,177.42 L532.70,177.57 L533.20,177.73 L533.70,177.88 L534.20,178.04 L534.70,178.19 L535.20,178.35 L535.70,178.50 L536.20,178.65 L536.70,178.80 L537.20,178.95 L537.70,179.10 L538.20,179.25 L538.70,179.40 L539.20,179.54 L539.70,179.69 L540.20,179.84 L540.70,179.98 L541.20,180.13 L541.70,180.27 L542.20,180.42 L542.70,180.56 L543.20,180.70 L543.70,180.84 L544.20,180.98 L544.70,181.13 L545.20,181.27 L545.70,181.41 L546.20,181.54 L546.70,181.68 L547.20,181.82 L547.70,181.96 L548.20,182.10 L548.70,182.23 L549.20,182.37 L549.70,182.50 L550.20,182.64 L550.70,182.77 L551.20,182.91 L551.70,183.04 L552.20,183.17 L552.70,183.31 L553.20,183.44 L553.70,183.57 L554.20,183.70 L554.70,183.83 L555.20,183.97 L555.70,184.10 L556.20,184.23 L556.70,184.36 L557.20,184.48 L557.70,184.61 L558.20,184.74 L558.70,184.87 L559.20,185.00 L559.70,185.13 L560.20,185.25 L560.70,185.38 L561.20,185.51 L561.70,185.63 L562.20,185.76 L562.70,185.88 L563.20,186.01 L563.70,186.13 L564.20,186.26 L564.70,186.38 L565.20,186.51 L565.70,186.63 L566.20,186.76 L566.70,186.88 L567.20,187.00 L567.70,187.13 L568.20,187.25 L568.70,187.37 L569.20,187.50 L569.70,187.62 L570.20,187.74 L570.70,187.86 L571.20,187.99 L571.70,188.11 L572.20,188.23 L572.70,188.35 L573.20,188.47 L573.70,188.60 L574.20,188.72 L574.70,188.84 L575.20,188.96 L575.70,189.08 L576.20,189.20 L576.70,189.32 L577.20,189.45 L577.70,189.57 L578.20,189.69 L578.70,189.81 L579.20,189.93 L579.70,190.05 L580.20,190.17 L580.70,190.29 L581.20,190.41 L581.70,190.54 L582.20,190.66 L582.70,190.78 L583.20,190.90 L583.70,191.02 L584.20,191.14 L584.70,191.26 L585.20,191.38 L585.70,191.51 L586.20,191.63 L586.70,191.75 L587.20,191.87 L587.70,191.99 L588.20,192.12 L588.70,192.24 L589.20,192.36 L589.70,192.48 L590.20,192.61 L590.70,192.73 L591.20,192.85 L591.70,192.98 L592.20,193.10 L592.70,193.22 L593.20,193.35 L593.70,193.47 L594.20,193.60 L594.70,193.72 L595.20,193.85 L595.70,193.97 L596.20,194.10 L596.70,194.22 L597.20,194.35 L597.70,194.47 L598.20,194.60 L598.70,194.73 L599.20,194.86 L599.70,194.98 L600.20,195.11 L600.70,195.24 L601.20,195.37 L601.70,195.50 L602.20,195.63 L602.70,195.76 L603.20,195.89 L603.70,196.02 L604.20,196.15 L604.70,196.28 L605.20,196.41 L605.70,196.54 L606.20,196.67 L606.70,196.81 L607.20,196.94 L607.70,197.07 L608.20,197.21 L608.70,197.34 L609.20,197.48" fill="none" stroke="#000" stroke-width="1.6" stroke-linejoin="round"/>
<path d="M371.20,30.68 L371.70,31.07 L372.20,31.29 L372.70,31.39 L373.20,31.40 L373.70,31.38 L374.20,31.35 L374.70,31.35 L375.20,31.44 L375.70,31.63 L376.20,31.98 L376.70,32.50 L377.20,33.14 L377.70,33.88 L378.20,34.69 L378.70,35.52 L379.20,36.35 L379.70,37.15 L380.20,37.87 L380.70,38.50 L381.20,39.03 L381.70,39.49 L382.20,39.88 L382.70,40.24 L383.20,40.59 L383.70,40.93 L384.20,41.29 L384.70,41.69 L385.20,42.15 L385.70,42.69 L386.20,43.33 L386.70,44.08 L387.20,44.97 L387.70,45.98 L388.20,47.10 L388.70,48.28 L389.20,49.50 L389.70,50.72 L390.20,51.90 L390.70,53.02 L391.20,54.11 L391.70,55.16 L392.20,56.19 L392.70,57.20 L393.20,58.21 L393.70,59.21 L394.20,60.21 L394.70,61.21 L395.20,62.21 L395.70,63.21 L396.20,64.20 L396.70,65.20 L397.20,66.19 L397.70,67.18 L398.20,68.18 L398.70,69.17 L399.20,70.16 L399.70,71.15 L400.20,72.14 L400.70,73.14 L401.20,74.13 L401.70,75.12 L402.20,76.11 L402.70,77.11 L403.20,78.10 L403.70,79.10 L404.20,80.10 L404.70,81.09 L405.20,82.09 L405.70,83.09 L406.20,84.10 L406.70,85.10 L407.20,86.10 L407.70,87.09 L408.20,88.09 L408.70,89.08 L409.20,90.07 L409.70,91.05 L410.20,92.03 L410.70,93.00 L411.20,93.96 L411.70,94.92 L412.20,95.86 L412.70,96.79 L413.20,97.70 L413.70,98.59 L414.20,99.45 L414.70,100.29 L415.20,101.11 L415.70,101.89 L416.20,102.63 L416.70,103.34 L417.20,104.01 L417.70,104.63 L418.20,105.23 L418.70,105.78 L419.20,106.31 L419.70,106.81 L420.20,107.30 L420.70,107.76 L421.20,108.21 L421.70,108.65 L422.20,109.09 L422.70,109.53 L423.20,109.96 L423.70,110.40 L424.20,110.86 L424.70,111.33 L425.20,111.82 L425.70,112.35 L426.20,112.90 L426.70,113.48 L427.20,114.10 L427.70,114.74 L428.20,115.40 L428.70,116.08 L429.20,116.77 L429.70,117.47 L430.20,118.17 L430.70,118.88 L431.20,119.58 L431.70,120.28 L432.20,120.96 L432.70,121.63 L433.20,122.27 L433.70,122.90 L434.20,123.49 L434.70,124.05 L435.20,124.58 L435.70,125.06 L436.20,125.50 L436.70,125.89 L437.20,126.23 L437.70,126.52 L438.20,126.76 L438.70,126.96 L439.20,127.15 L439.70,127.32 L440.20,127.50 L440.70,127.70 L441.20,127.92 L441.70,128.18 L442.20,128.49 L442.70,128.87 L443.20,129.32 L443.70,129.85 L444.20,130.49 L444.70,131.24 L445.20,132.10 L445.70,133.01 L446.20,133.89 L446.70,134.66 L447.20,135.26 L447.70,135.68 L448.20,135.98 L448.70,136.20 L449.20,136.37 L449.70,136.54 L450.20,136.73 L450.70,136.95 L451.20,137.20 L451.70,137.47 L452.20,137.77 L452.70,138.08 L453.20,138.41 L453.70,138.75 L454.20,139.10 L454.70,139.47 L455.20,139.85 L455.70,140.23 L456.20,140.63 L456.70,141.04 L457.20,141.45 L457.70,141.88 L458.20,142.30 L458.70,142.74 L459.20,143.18 L459.70,143.62 L460.20,144.07 L460.70,144.52 L461.20,144.97 L461.70,145.42 L462.20,145.88 L462.70,146.33 L463.20,146.78 L463.70,147.23 L464.20,147.67 L464.70,148.12 L465.20,148.55 L465.70,148.98 L466.20,149.41 L466.70,149.83 L467.20,150.24 L467.70,150.64 L468.20,151.04 L468.70,151.42 L469.20,151.79 L469.70,152.15 L470.20,152.50 L470.70,152.84 L471.20,153.17 L471.70,153.48 L472.20,153.79 L472.70,154.09 L473.20,154.39 L473.70,154.68 L474.20,154.96 L474.70,155.24 L475.20,155.51 L475.70,155.78 L476.20,156.05 L476.70,156.31 L477.20,156.58 L477.70,156.85 L478.20,157.11 L478.70,157.38 L479.20,157.65 L479.70,157.93 L480.20,158.20 L480.70,158.49 L481.20,158.77 L481.70,159.07 L482.20,159.36 L482.70,159.66 L483.20,159.97 L483.70,160.27 L484.20,160.58 L484.70,160.89 L485.20,161.20 L485.70,161.51 L486.20,161.82 L486.70,162.13 L487.20,162.43 L487.70,162.74 L488.20,163.04 L488.70,163.33 L489.20,163.63 L489.70,163.92 L490.20,164.21 L490.70,164.49 L491.20,164.78 L491.70,165.06 L492.20,165.33 L492.70,165.61 L493.20,165.88 L493.70,166.15 L494.20,166.42 L494.70,166.68 L495.20,166.94 L495.70,167.20 L496.20,167.46 L496.70,167.71 L497.20,167.97 L497.70,168.22 L498.20,168.47 L498.70,168.71 L499.20,168.96 L499.70,169.20 L500.20,169.44 L500.70,169.68 L501.20,169.91 L501.70,170.15 L502.20,170.38 L502.70,170.61 L503.20,170.84 L503.70,171.07 L504.20,171.30 L504.70,171.52 L505.20,171.75 L505.70,171.97 L506.20,172.19 L506.70,172.41 L507.20,172.63 L507.70,172.85 L508.20,173.06 L508.70,173.28 L509.20,173.49 L509.70,173.70 L510.20,173.91 L510.70,174.13 L511.20,174.34 L511.70,174.55 L512.20,174.75 L512.70,174.96 L513.20,175.17 L513.70,175.37 L514.20,175.58 L514.70,175.79 L515.20,175.99 L515.70,176.19 L516.20,176.40 L516.70,176.60 L517.20,176.81 L517.70,177.01 L518.20,177.21 L518.70,177.41 L519.20,177.62 L519.70,177.82 L520.20,178.02 L520.70,178.22 L521.20,178.43 L521.70,178.63 L522.20,178.83 L522.70,179.04 L523.20,179.24 L523.70,179.44 L524.20,179.65 L524.70,179.85 L525.20,180.06 L525.70,180.27 L526.20,180.47 L526.70,180.68 L527.20,180.89 L527.70,181.10 L528.20,181.31 L528.70,181.52 L529.20,181.73 L529.70,181.94 L530.20,182.15 L530.70,182.37 L531.20,182.58 L531.70,182.80 L532.20,183.02 L532.70,183.24 L533.20,183.46 L533.70,183.68 L534.20,183.91 L534.70,184.13 L535.20,184.36 L535.70,184.59 L536.20,184.81 L536.70,185.05 L537.20,185.28 L537.70,185.51 L538.20,185.75 L538.70,185.99 L539.20,186.23 L539.70,186.47 L540.20,186.72 L540.70,186.96 L541.20,187.21 L541.70,187.46 L542.20,187.72 L542.70,187.97 L543.20,188.23 L543.70,188.49 L544.20,188.75 L544.70,189.02 L545.20,189.28 L545.70,189.55 L546.20,189.82 L546.70,190.09 L547.20,190.37 L547.70,190.64 L548.20,190.91 L548.70,191.19 L549.20,191.46 L549.70,191.74 L550.20,192.02 L550.70,192.30 L551.20,192.57 L551.70,192.85 L552.20,193.13 L552.70,193.41 L553.20,193.68 L553.70,193.96 L554.20,194.24 L554.70,194.51 L555.20,194.79 L555.70,195.06 L556.20,195.34 L556.70,195.61 L557.20,195.88 L557.70,196.15 L558.20,196.41 L558.70,196.68 L559.20,196.94 L559.70,197.20 L560.20,197.46 L560.70,197.72 L561.20,197.97 L561.70,198.22 L562.20,198.47 L562.70,198.72 L563.20,198.96 L563.70,199.20 L564.20,199.44 L564.70,199.67 L565.20,199.89 L565.70,200.10 L566.20,200.31 L566.70,200.51 L567.20,200.70 L567.70,200.88 L568.20,201.05 L568.70,201.21 L569.20,201.35 L569.70,201.49 L570.20,201.62 L570.70,201.76 L571.20,201.93 L571.70,202.10 L572.20,202.29 L572.70,202.49 L573.20,202.70 L573.70,202.93 L574.20,203.16 L574.70,203.40 L575.20,203.65 L575.70,203.90 L576.20,204.16 L576.70,204.43 L577.20,204.70 L577.70,204.97 L578.20,205.25 L578.70,205.52 L579.20,205.80 L579.70,206.08 L580.20,206.35 L580.70,206.62 L581.20,206.89 L581.70,207.16 L582.20,207.42 L582.70,207.68 L583.20,207.93 L583.70,208.17 L584.20,208.40 L584.70,208.63 L585.20,208.85 L585.70,209.07 L586.20,209.27 L586.70,209.48 L587.20,209.68 L587.70,209.87 L588.20,210.06 L588.70,210.25 L589.20,210.43 L589.70,210.61 L590.20,210.79 L590.70,210.97 L591.20,211.14 L591.70,211.31 L592.20,211.49 L592.70,211.66 L593.20,211.84 L593.70,212.01 L594.20,212.19 L594.70,212.37 L595.20,212.55 L595.70,212.73 L596.20,212.92 L596.70,213.11 L597.20,213.30 L597.70,213.50 L598.20,213.70 L598.70,213.91 L599.20,214.12 L599.70,214.34 L600.20,214.57 L600.70,214.81 L601.20,215.05 L601.70,215.30 L602.20,215.56 L602.70,215.82 L603.20,216.10" fill="none" stroke="#f00" stroke-width="1.6" stroke-linejoin="round"/>
<path d="M371.20,29.27 L371.70,29.24 L372.20,29.25 L372.70,29.30 L373.20,29.40 L373.70,29.53 L374.20,29.72 L374.70,29.95 L375.20,30.22 L375.70,30.55 L376.20,30.93 L376.70,31.36 L377.20,31.84 L377.70,32.38 L378.20,32.97 L378.70,33.62 L379.20,34.33 L379.70,35.07 L380.20,35.83 L380.70,36.60 L381.20,37.36 L381.70,38.11 L382.20,38.81 L382.70,39.46 L383.20,40.05 L383.70,40.60 L384.20,41.14 L384.70,41.69 L385.20,42.28 L385.70,42.94 L386.20,43.69 L386.70,44.56 L387.20,45.57 L387.70,46.71 L388.20,47.95 L388.70,49.24 L389.20,50.54 L389.70,51.82 L390.20,53.05 L390.70,54.23 L391.20,55.36 L391.70,56.46 L392.20,57.53 L392.70,58.56 L393.20,59.56 L393.70,60.54 L394.20,61.50 L394.70,62.44 L395.20,63.37 L395.70,64.29 L396.20,65.20 L396.70,66.11 L397.20,67.03 L397.70,67.95 L398.20,68.87 L398.70,69.81 L399.20,70.77 L399.70,71.74 L400.20,72.74 L400.70,73.77 L401.20,74.82 L401.70,75.88 L402.20,76.96 L402.70,78.04 L403.20,79.13 L403.70,80.22 L404.20,81.31 L404.70,82.39 L405.20,83.45 L405.70,84.50 L406.20,85.53 L406.70,86.53 L407.20,87.50 L407.70,88.44 L408.20,89.34 L408.70,90.22 L409.20,91.09 L409.70,91.94 L410.20,92.79 L410.70,93.65 L411.20,94.52 L411.70,95.42 L412.20,96.34 L412.70,97.30 L413.20,98.27 L413.70,99.24 L414.20,100.20 L414.70,101.15 L415.20,102.05 L415.70,102.91 L416.20,103.70 L416.70,104.42 L417.20,105.05 L417.70,105.58 L418.20,106.00 L418.70,106.36 L419.20,106.68 L419.70,106.99 L420.20,107.34 L420.70,107.76 L421.20,108.24 L421.70,108.79 L422.20,109.38 L422.70,110.01 L423.20,110.65 L423.70,111.31 L424.20,111.97 L424.70,112.64 L425.20,113.32 L425.70,114.02 L426.20,114.72 L426.70,115.44 L427.20,116.17 L427.70,116.92 L428.20,117.68 L428.70,118.44 L429.20,119.21 L429.70,119.97 L430.20,120.71 L430.70,121.44 L431.20,122.15 L431.70,122.82 L432.20,123.46 L432.70,124.06 L433.20,124.61 L433.70,125.10 L434.20,125.55 L434.70,125.94 L435.20,126.29 L435.70,126.61 L436.20,126.90 L436.70,127.18 L437.20,127.44 L437.70,127.70 L438.20,127.96 L438.70,128.24 L439.20,128.53 L439.70,128.84 L440.20,129.19 L440.70,129.58 L441.20,130.01 L441.70,130.50 L442.20,131.01 L442.70,131.56 L443.20,132.12 L443.70,132.70 L444.20,133.27 L444.70,133.83 L445.20,134.38 L445.70,134.93 L446.20,135.46 L446.70,135.97 L447.20,136.47 L447.70,136.95 L448.20,137.41 L448.70,137.84 L449.20,138.26 L449.70,138.65 L450.20,139.01 L450.70,139.35 L451.20,139.67 L451.70,139.98 L452.20,140.28 L452.70,140.56 L453.20,140.85 L453.70,141.13 L454.20,141.41 L454.70,141.70 L455.20,142.00 L455.70,142.31 L456.20,142.64 L456.70,142.99 L457.20,143.36 L457.70,143.76 L458.20,144.20 L458.70,144.66 L459.20,145.17 L459.70,145.71 L460.20,146.30 L460.70,146.92 L461.20,147.56 L461.70,148.19 L462.20,148.79 L462.70,149.36 L463.20,149.89 L463.70,150.39 L464.20,150.86 L464.70,151.30 L465.20,151.71 L465.70,152.10 L466.20,152.47 L466.70,152.83 L467.20,153.16 L467.70,153.48 L468.20,153.80 L468.70,154.10 L469.20,154.40 L469.70,154.69 L470.20,154.99 L470.70,155.28 L471.20,155.57 L471.70,155.86 L472.20,156.14 L472.70,156.43 L473.20,156.71 L473.70,156.99 L474.20,157.28 L474.70,157.56 L475.20,157.84 L475.70,158.12 L476.20,158.39 L476.70,158.67 L477.20,158.95 L477.70,159.22 L478.20,159.50 L478.70,159.77 L479.20,160.05 L479.70,160.32 L480.20,160.59 L480.70,160.87 L481.20,161.14 L481.70,161.41 L482.20,161.68 L482.70,161.95 L483.20,162.23 L483.70,162.50 L484.20,162.77 L484.70,163.04 L485.20,163.31 L485.70,163.58 L486.20,163.85 L486.70,164.12 L487.20,164.39 L487.70,164.66 L488.20,164.93 L488.70,165.20 L489.20,165.46 L489.70,165.73 L490.20,166.00 L490.70,166.27 L491.20,166.54 L491.70,166.81 L492.20,167.08 L492.70,167.35 L493.20,167.63 L493.70,167.90 L494.20,168.17 L494.70,168.44 L495.20,168.71 L495.70,168.98 L496.20,169.26 L496.70,169.53 L497.20,169.80 L497.70,170.08 L498.20,170.35 L498.70,170.63 L499.20,170.90 L499.70,171.18 L500.20,171.46 L500.70,171.73 L501.20,172.01 L501.70,172.29 L502.20,172.57 L502.70,172.85 L503.20,173.13 L503.70,173.41 L504.20,173.70 L504.70,173.98 L505.20,174.26 L505.70,174.55 L506.20,174.84 L506.70,175.12 L507.20,175.41 L507.70,175.70 L508.20,175.99 L508.70,176.28 L509.20,176.57 L509.70,176.87 L510.20,177.16 L510.70,177.46 L511.20,177.75 L511.70,178.05 L512.20,178.35 L512.70,178.65 L513.20,178.95 L513.70,179.25 L514.20,179.55 L514.70,179.85 L515.20,180.15 L515.70,180.46 L516.20,180.76 L516.70,181.07 L517.20,181.38 L517.70,181.69 L518.20,182.00 L518.70,182.31 L519.20,182.62 L519.70,182.93 L520.20,183.24 L520.70,183.56 L521.20,183.87 L521.70,184.19 L522.20,184.51 L522.70,184.83 L523.20,185.15 L523.70,185.47 L524.20,185.79 L524.70,186.11 L525.20,186.43 L525.70,186.76 L526.20,187.08 L526.70,187.41 L527.20,187.73 L527.70,188.06 L528.20,188.39 L528.70,188.72 L529.20,189.05 L529.70,189.38 L530.20,189.72 L530.70,190.05 L531.20,190.39 L531.70,190.72 L532.20,191.06 L532.70,191.40 L533.20,191.73 L533.70,192.07 L534.20,192.42 L534.70,192.76 L535.20,193.10 L535.70,193.44 L536.20,193.79 L536.70,194.13 L537.20,194.48 L537.70,194.83 L538.20,195.18 L538.70,195.53 L539.20,195.88 L539.70,196.23 L540.20,196.58 L540.70,196.94 L541.20,197.29 L541.70,197.65 L542.20,198.00 L542.70,198.36 L543.20,198.72 L543.70,199.08 L544.20,199.44 L544.70,199.80 L545.20,200.16 L545.70,200.53 L546.20,200.89 L546.70,201.26 L547.20,201.62 L547.70,201.99 L548.20,202.36 L548.70,202.73 L549.20,203.10 L549.70,203.47 L550.20,203.85 L550.70,204.22 L551.20,204.59 L551.70,204.97 L552.20,205.35 L552.70,205.72 L553.20,206.10 L553.70,206.48 L554.20,206.86 L554.70,207.24 L555.20,207.63 L555.70,208.01 L556.20,208.40 L556.70,208.78 L557.20,209.17 L557.70,209.56 L558.20,209.94 L558.70,210.33 L559.20,210.73 L559.70,211.12 L560.20,211.51 L560.70,211.90 L561.20,212.30 L561.70,212.70 L562.20,213.09 L562.70,213.49 L563.20,213.89 L563.70,214.29 L564.20,214.69 L564.70,215.09 L565.20,215.50 L565.70,215.90" fill="none" stroke="#00f" stroke-width="1.6" stroke-linejoin="round"/>
</g>
<line x1="97.50" y1="215.00" x2="97.50" y2="211.00" stroke="#000" stroke-width="1.3"/>
<line x1="97.50" y1="22.00" x2="97.50" y2="26.00" stroke="#000" stroke-width="1.3"/>
<line x1="146.00" y1="215.00" x2="146.00" y2="211.00" stroke="#000" stroke-width="1.3"/>
<line x1="146.00" y1="22.00" x2="146.00" y2="26.00" stroke="#000" stroke-width="1.3"/>
<line x1="194.50" y1="215.00" x2="194.50" y2="211.00" stroke="#000" stroke-width="1.3"/>
<line x1="194.50" y1="22.00" x2="194.50" y2="26.00" stroke="#000" stroke-width="1.3"/>
<line x1="243.00" y1="215.00" x2="243.00" y2="211.00" stroke="#000" stroke-width="1.3"/>
<line x1="243.00" y1="22.00" x2="243.00" y2="26.00" stroke="#000" stroke-width="1.3"/>
<line x1="73.25" y1="215.00" x2="73.25" y2="213.00" stroke="#000" stroke-width="1.3"/>
<line x1="73.25" y1="22.00" x2="73.25" y2="24.00" stroke="#000" stroke-width="1.3"/>
<line x1="121.75" y1="215.00" x2="121.75" y2="213.00" stroke="#000" stroke-width="1.3"/>
<line x1="121.75" y1="22.00" x2="121.75" y2="24.00" stroke="#000" stroke-width="1.3"/>
<line x1="170.25" y1="215.00" x2="170.25" y2="213.00" stroke="#000" stroke-width="1.3"/>
<line x1="170.25" y1="22.00" x2="170.25" y2="24.00" stroke="#000" stroke-width="1.3"/>
<line x1="218.75" y1="215.00" x2="218.75" y2="213.00" stroke="#000" stroke-width="1.3"/>
<line x1="218.75" y1="22.00" x2="218.75" y2="24.00" stroke="#000" stroke-width="1.3"/>
<line x1="267.25" y1="215.00" x2="267.25" y2="213.00" stroke="#000" stroke-width="1.3"/>
<line x1="267.25" y1="22.00" x2="267.25" y2="24.00" stroke="#000" stroke-width="1.3"/>
<line x1="49.00" y1="198.24" x2="51.00" y2="198.24" stroke="#000" stroke-width="1.3"/>
<line x1="291.50" y1="198.24" x2="289.50" y2="198.24" stroke="#000" stroke-width="1.3"/>
<line x1="49.00" y1="181.48" x2="53.00" y2="181.48" stroke="#000" stroke-width="1.3"/>
<line x1="291.50" y1="181.48" x2="287.50" y2="181.48" stroke="#000" stroke-width="1.3"/>
<line x1="49.00" y1="164.72" x2="51.00" y2="164.72" stroke="#000" stroke-width="1.3"/>
<line x1="291.50" y1="164.72" x2="289.50" y2="164.72" stroke="#000" stroke-width="1.3"/>
<line x1="49.00" y1="147.96" x2="53.00" y2="147.96" stroke="#000" stroke-width="1.3"/>
<line x1="291.50" y1="147.96" x2="287.50" y2="147.96" stroke="#000" stroke-width="1.3"/>
<line x1="49.00" y1="131.20" x2="51.00" y2="131.20" stroke="#000" stroke-width="1.3"/>
<line x1="291.50" y1="131.20" x2="289.50" y2="131.20" stroke="#000" stroke-width="1.3"/>
<line x1="49.00" y1="114.44" x2="53.00" y2="114.44" stroke="#000" stroke-width="1.3"/>
<line x1="291.50" y1="114.44" x2="287.50" y2="114.44" stroke="#000" stroke-width="1.3"/>
<line x1="49.00" y1="97.68" x2="51.00" y2="97.68" stroke="#000" stroke-width="1.3"/>
<line x1="291.50" y1="97.68" x2="289.50" y2="97.68" stroke="#000" stroke-width="1.3"/>
<line x1="49.00" y1="80.92" x2="53.00" y2="80.92" stroke="#000" stroke-width="1.3"/>
<line x1="291.50" y1="80.92" x2="287.50" y2="80.92" stroke="#000" stroke-width="1.3"/>
<line x1="49.00" y1="64.16" x2="51.00" y2="64.16" stroke="#000" stroke-width="1.3"/>
<line x1="291.50" y1="64.16" x2="289.50" y2="64.16" stroke="#000" stroke-width="1.3"/>
<line x1="49.00" y1="47.40" x2="53.00" y2="47.40" stroke="#000" stroke-width="1.3"/>
<line x1="291.50" y1="47.40" x2="287.50" y2="47.40" stroke="#000" stroke-width="1.3"/>
<line x1="49.00" y1="30.64" x2="51.00" y2="30.64" stroke="#000" stroke-width="1.3"/>
<line x1="291.50" y1="30.64" x2="289.50" y2="30.64" stroke="#000" stroke-width="1.3"/>
<rect x="49.0" y="22.0" width="242.5" height="193.0" fill="none" stroke="#000" stroke-width="1.7"/>
<text x="44.70" y="219.50" font-size="14.3" text-anchor="end" >0</text>
<text x="44.70" y="185.98" font-size="14.3" text-anchor="end" >1000</text>
<text x="44.70" y="152.46" font-size="14.3" text-anchor="end" >2000</text>
<text x="44.70" y="118.94" font-size="14.3" text-anchor="end" >3000</text>
<text x="44.70" y="85.42" font-size="14.3" text-anchor="end" >4000</text>
<text x="44.70" y="51.90" font-size="14.3" text-anchor="end" >5000</text>
<text x="49.00" y="231.60" font-size="14.3" text-anchor="middle" >0.0</text>
<text x="97.50" y="231.60" font-size="14.3" text-anchor="middle" >0.1</text>
<text x="146.00" y="231.60" font-size="14.3" text-anchor="middle" >0.2</text>
<text x="194.50" y="231.60" font-size="14.3" text-anchor="middle" >0.3</text>
<text x="243.00" y="231.60" font-size="14.3" text-anchor="middle" >0.4</text>
<text x="291.50" y="231.60" font-size="14.3" text-anchor="middle" >0.5</text>
<line x1="418.72" y1="215.50" x2="418.72" y2="211.50" stroke="#000" stroke-width="1.3"/>
<line x1="418.72" y1="22.40" x2="418.72" y2="26.40" stroke="#000" stroke-width="1.3"/>
<line x1="466.24" y1="215.50" x2="466.24" y2="211.50" stroke="#000" stroke-width="1.3"/>
<line x1="466.24" y1="22.40" x2="466.24" y2="26.40" stroke="#000" stroke-width="1.3"/>
<line x1="513.76" y1="215.50" x2="513.76" y2="211.50" stroke="#000" stroke-width="1.3"/>
<line x1="513.76" y1="22.40" x2="513.76" y2="26.40" stroke="#000" stroke-width="1.3"/>
<line x1="561.28" y1="215.50" x2="561.28" y2="211.50" stroke="#000" stroke-width="1.3"/>
<line x1="561.28" y1="22.40" x2="561.28" y2="26.40" stroke="#000" stroke-width="1.3"/>
<line x1="394.96" y1="215.50" x2="394.96" y2="213.50" stroke="#000" stroke-width="1.3"/>
<line x1="394.96" y1="22.40" x2="394.96" y2="24.40" stroke="#000" stroke-width="1.3"/>
<line x1="442.48" y1="215.50" x2="442.48" y2="213.50" stroke="#000" stroke-width="1.3"/>
<line x1="442.48" y1="22.40" x2="442.48" y2="24.40" stroke="#000" stroke-width="1.3"/>
<line x1="490.00" y1="215.50" x2="490.00" y2="213.50" stroke="#000" stroke-width="1.3"/>
<line x1="490.00" y1="22.40" x2="490.00" y2="24.40" stroke="#000" stroke-width="1.3"/>
<line x1="537.52" y1="215.50" x2="537.52" y2="213.50" stroke="#000" stroke-width="1.3"/>
<line x1="537.52" y1="22.40" x2="537.52" y2="24.40" stroke="#000" stroke-width="1.3"/>
<line x1="585.04" y1="215.50" x2="585.04" y2="213.50" stroke="#000" stroke-width="1.3"/>
<line x1="585.04" y1="22.40" x2="585.04" y2="24.40" stroke="#000" stroke-width="1.3"/>
<line x1="371.20" y1="204.06" x2="373.20" y2="204.06" stroke="#000" stroke-width="1.3"/>
<line x1="608.80" y1="204.06" x2="606.80" y2="204.06" stroke="#000" stroke-width="1.3"/>
<line x1="371.20" y1="197.37" x2="373.20" y2="197.37" stroke="#000" stroke-width="1.3"/>
<line x1="608.80" y1="197.37" x2="606.80" y2="197.37" stroke="#000" stroke-width="1.3"/>
<line x1="371.20" y1="192.62" x2="373.20" y2="192.62" stroke="#000" stroke-width="1.3"/>
<line x1="608.80" y1="192.62" x2="606.80" y2="192.62" stroke="#000" stroke-width="1.3"/>
<line x1="371.20" y1="188.94" x2="373.20" y2="188.94" stroke="#000" stroke-width="1.3"/>
<line x1="608.80" y1="188.94" x2="606.80" y2="188.94" stroke="#000" stroke-width="1.3"/>
<line x1="371.20" y1="185.93" x2="373.20" y2="185.93" stroke="#000" stroke-width="1.3"/>
<line x1="608.80" y1="185.93" x2="606.80" y2="185.93" stroke="#000" stroke-width="1.3"/>
<line x1="371.20" y1="183.39" x2="373.20" y2="183.39" stroke="#000" stroke-width="1.3"/>
<line x1="608.80" y1="183.39" x2="606.80" y2="183.39" stroke="#000" stroke-width="1.3"/>
<line x1="371.20" y1="181.18" x2="373.20" y2="181.18" stroke="#000" stroke-width="1.3"/>
<line x1="608.80" y1="181.18" x2="606.80" y2="181.18" stroke="#000" stroke-width="1.3"/>
<line x1="371.20" y1="179.24" x2="373.20" y2="179.24" stroke="#000" stroke-width="1.3"/>
<line x1="608.80" y1="179.24" x2="606.80" y2="179.24" stroke="#000" stroke-width="1.3"/>
<line x1="371.20" y1="177.50" x2="375.20" y2="177.50" stroke="#000" stroke-width="1.3"/>
<line x1="608.80" y1="177.50" x2="604.80" y2="177.50" stroke="#000" stroke-width="1.3"/>
<line x1="371.20" y1="166.06" x2="373.20" y2="166.06" stroke="#000" stroke-width="1.3"/>
<line x1="608.80" y1="166.06" x2="606.80" y2="166.06" stroke="#000" stroke-width="1.3"/>
<line x1="371.20" y1="159.37" x2="373.20" y2="159.37" stroke="#000" stroke-width="1.3"/>
<line x1="608.80" y1="159.37" x2="606.80" y2="159.37" stroke="#000" stroke-width="1.3"/>
<line x1="371.20" y1="154.62" x2="373.20" y2="154.62" stroke="#000" stroke-width="1.3"/>
<line x1="608.80" y1="154.62" x2="606.80" y2="154.62" stroke="#000" stroke-width="1.3"/>
<line x1="371.20" y1="150.94" x2="373.20" y2="150.94" stroke="#000" stroke-width="1.3"/>
<line x1="608.80" y1="150.94" x2="606.80" y2="150.94" stroke="#000" stroke-width="1.3"/>
<line x1="371.20" y1="147.93" x2="373.20" y2="147.93" stroke="#000" stroke-width="1.3"/>
<line x1="608.80" y1="147.93" x2="606.80" y2="147.93" stroke="#000" stroke-width="1.3"/>
<line x1="371.20" y1="145.39" x2="373.20" y2="145.39" stroke="#000" stroke-width="1.3"/>
<line x1="608.80" y1="145.39" x2="606.80" y2="145.39" stroke="#000" stroke-width="1.3"/>
<line x1="371.20" y1="143.18" x2="373.20" y2="143.18" stroke="#000" stroke-width="1.3"/>
<line x1="608.80" y1="143.18" x2="606.80" y2="143.18" stroke="#000" stroke-width="1.3"/>
<line x1="371.20" y1="141.24" x2="373.20" y2="141.24" stroke="#000" stroke-width="1.3"/>
<line x1="608.80" y1="141.24" x2="606.80" y2="141.24" stroke="#000" stroke-width="1.3"/>
<line x1="371.20" y1="139.50" x2="375.20" y2="139.50" stroke="#000" stroke-width="1.3"/>
<line x1="608.80" y1="139.50" x2="604.80" y2="139.50" stroke="#000" stroke-width="1.3"/>
<line x1="371.20" y1="128.06" x2="373.20" y2="128.06" stroke="#000" stroke-width="1.3"/>
<line x1="608.80" y1="128.06" x2="606.80" y2="128.06" stroke="#000" stroke-width="1.3"/>
<line x1="371.20" y1="121.37" x2="373.20" y2="121.37" stroke="#000" stroke-width="1.3"/>
<line x1="608.80" y1="121.37" x2="606.80" y2="121.37" stroke="#000" stroke-width="1.3"/>
<line x1="371.20" y1="116.62" x2="373.20" y2="116.62" stroke="#000" stroke-width="1.3"/>
<line x1="608.80" y1="116.62" x2="606.80" y2="116.62" stroke="#000" stroke-width="1.3"/>
<line x1="371.20" y1="112.94" x2="373.20" y2="112.94" stroke="#000" stroke-width="1.3"/>
<line x1="608.80" y1="112.94" x2="606.80" y2="112.94" stroke="#000" stroke-width="1.3"/>
<line x1="371.20" y1="109.93" x2="373.20" y2="109.93" stroke="#000" stroke-width="1.3"/>
<line x1="608.80" y1="109.93" x2="606.80" y2="109.93" stroke="#000" stroke-width="1.3"/>
<line x1="371.20" y1="107.39" x2="373.20" y2="107.39" stroke="#000" stroke-width="1.3"/>
<line x1="608.80" y1="107.39" x2="606.80" y2="107.39" stroke="#000" stroke-width="1.3"/>
<line x1="371.20" y1="105.18" x2="373.20" y2="105.18" stroke="#000" stroke-width="1.3"/>
<line x1="608.80" y1="105.18" x2="606.80" y2="105.18" stroke="#000" stroke-width="1.3"/>
<line x1="371.20" y1="103.24" x2="373.20" y2="103.24" stroke="#000" stroke-width="1.3"/>
<line x1="608.80" y1="103.24" x2="606.80" y2="103.24" stroke="#000" stroke-width="1.3"/>
<line x1="371.20" y1="101.50" x2="375.20" y2="101.50" stroke="#000" stroke-width="1.3"/>
<line x1="608.80" y1="101.50" x2="604.80" y2="101.50" stroke="#000" stroke-width="1.3"/>
<line x1="371.20" y1="90.06" x2="373.20" y2="90.06" stroke="#000" stroke-width="1.3"/>
<line x1="608.80" y1="90.06" x2="606.80" y2="90.06" stroke="#000" stroke-width="1.3"/>
<line x1="371.20" y1="83.37" x2="373.20" y2="83.37" stroke="#000" stroke-width="1.3"/>
<line x1="608.80" y1="83.37" x2="606.80" y2="83.37" stroke="#000" stroke-width="1.3"/>
<line x1="371.20" y1="78.62" x2="373.20" y2="78.62" stroke="#000" stroke-width="1.3"/>
<line x1="608.80" y1="78.62" x2="606.80" y2="78.62" stroke="#000" stroke-width="1.3"/>
<line x1="371.20" y1="74.94" x2="373.20" y2="74.94" stroke="#000" stroke-width="1.3"/>
<line x1="608.80" y1="74.94" x2="606.80" y2="74.94" stroke="#000" stroke-width="1.3"/>
<line x1="371.20" y1="71.93" x2="373.20" y2="71.93" stroke="#000" stroke-width="1.3"/>
<line x1="608.80" y1="71.93" x2="606.80" y2="71.93" stroke="#000" stroke-width="1.3"/>
<line x1="371.20" y1="69.39" x2="373.20" y2="69.39" stroke="#000" stroke-width="1.3"/>
<line x1="608.80" y1="69.39" x2="606.80" y2="69.39" stroke="#000" stroke-width="1.3"/>
<line x1="371.20" y1="67.18" x2="373.20" y2="67.18" stroke="#000" stroke-width="1.3"/>
<line x1="608.80" y1="67.18" x2="606.80" y2="67.18" stroke="#000" stroke-width="1.3"/>
<line x1="371.20" y1="65.24" x2="373.20" y2="65.24" stroke="#000" stroke-width="1.3"/>
<line x1="608.80" y1="65.24" x2="606.80" y2="65.24" stroke="#000" stroke-width="1.3"/>
<line x1="371.20" y1="63.50" x2="375.20" y2="63.50" stroke="#000" stroke-width="1.3"/>
<line x1="608.80" y1="63.50" x2="604.80" y2="63.50" stroke="#000" stroke-width="1.3"/>
<line x1="371.20" y1="52.06" x2="373.20" y2="52.06" stroke="#000" stroke-width="1.3"/>
<line x1="608.80" y1="52.06" x2="606.80" y2="52.06" stroke="#000" stroke-width="1.3"/>
<line x1="371.20" y1="45.37" x2="373.20" y2="45.37" stroke="#000" stroke-width="1.3"/>
<line x1="608.80" y1="45.37" x2="606.80" y2="45.37" stroke="#000" stroke-width="1.3"/>
<line x1="371.20" y1="40.62" x2="373.20" y2="40.62" stroke="#000" stroke-width="1.3"/>
<line x1="608.80" y1="40.62" x2="606.80" y2="40.62" stroke="#000" stroke-width="1.3"/>
<line x1="371.20" y1="36.94" x2="373.20" y2="36.94" stroke="#000" stroke-width="1.3"/>
<line x1="608.80" y1="36.94" x2="606.80" y2="36.94" stroke="#000" stroke-width="1.3"/>
<line x1="371.20" y1="33.93" x2="373.20" y2="33.93" stroke="#000" stroke-width="1.3"/>
<line x1="608.80" y1="33.93" x2="606.80" y2="33.93" stroke="#000" stroke-width="1.3"/>
<line x1="371.20" y1="31.39" x2="373.20" y2="31.39" stroke="#000" stroke-width="1.3"/>
<line x1="608.80" y1="31.39" x2="606.80" y2="31.39" stroke="#000" stroke-width="1.3"/>
<line x1="371.20" y1="29.18" x2="373.20" y2="29.18" stroke="#000" stroke-width="1.3"/>
<line x1="608.80" y1="29.18" x2="606.80" y2="29.18" stroke="#000" stroke-width="1.3"/>
<line x1="371.20" y1="27.24" x2="373.20" y2="27.24" stroke="#000" stroke-width="1.3"/>
<line x1="608.80" y1="27.24" x2="606.80" y2="27.24" stroke="#000" stroke-width="1.3"/>
<line x1="371.20" y1="25.50" x2="375.20" y2="25.50" stroke="#000" stroke-width="1.3"/>
<line x1="608.80" y1="25.50" x2="604.80" y2="25.50" stroke="#000" stroke-width="1.3"/>
<rect x="371.2" y="22.4" width="237.59999999999997" height="193.1" fill="none" stroke="#000" stroke-width="1.7"/>
<text x="357.0" y="220.50" font-size="14" text-anchor="end">10</text>
<text x="356.8" y="214.30" font-size="9.8">15</text>
<text x="357.0" y="182.50" font-size="14" text-anchor="end">10</text>
<text x="356.8" y="176.30" font-size="9.8">16</text>
<text x="357.0" y="144.50" font-size="14" text-anchor="end">10</text>
<text x="356.8" y="138.30" font-size="9.8">17</text>
<text x="357.0" y="106.50" font-size="14" text-anchor="end">10</text>
<text x="356.8" y="100.30" font-size="9.8">18</text>
<text x="357.0" y="68.50" font-size="14" text-anchor="end">10</text>
<text x="356.8" y="62.30" font-size="9.8">19</text>
<text x="357.0" y="30.50" font-size="14" text-anchor="end">10</text>
<text x="356.8" y="24.30" font-size="9.8">20</text>
<text x="371.20" y="231.60" font-size="14.3" text-anchor="middle" >0.0</text>
<text x="418.72" y="231.60" font-size="14.3" text-anchor="middle" >0.1</text>
<text x="466.24" y="231.60" font-size="14.3" text-anchor="middle" >0.2</text>
<text x="513.76" y="231.60" font-size="14.3" text-anchor="middle" >0.3</text>
<text x="561.28" y="231.60" font-size="14.3" text-anchor="middle" >0.4</text>
<text x="608.80" y="231.60" font-size="14.3" text-anchor="middle" >0.5</text>
<text x="31.5" y="13.5" font-size="14.8">a)</text>
<text x="346.0" y="10.5" font-size="14.6">b)</text>
<text x="170.4" y="254.2" font-size="14.8" text-anchor="middle">r [cm]</text>
<text x="490.0" y="254.2" font-size="14.8" text-anchor="middle">r [cm]</text>
<text transform="translate(9.9,119.3) rotate(-90)" font-size="14.6" text-anchor="middle">Temperature [K]</text>
<text transform="translate(337.7,119.4) rotate(-90)" font-size="14.6" text-anchor="middle">Electron density [m<tspan font-size="10" dy="-5.6">-3</tspan><tspan dy="5.6">]</tspan></text>
<text x="122.2" y="44.70" font-size="14.6">1 m s<tspan font-size="10" dy="-4.9">-1</tspan><tspan dy="4.9">:</tspan></text>
<line x1="170.4" y1="39.60" x2="203.4" y2="39.60" stroke="#000" stroke-width="1.6"/>
<text x="206.8" y="44.70" font-size="14.6">T<tspan font-size="10.6" dy="2.8">g</tspan></text>
<line x1="227.9" y1="39.60" x2="261.2" y2="39.60" stroke="#000" stroke-width="1.6" stroke-dasharray="6.6 6.7"/>
<text x="265.1" y="44.70" font-size="14.6">T<tspan font-size="10.6" dy="2.8">v</tspan></text>
<text x="122.2" y="67.90" font-size="14.6">2 m s<tspan font-size="10" dy="-4.9">-1</tspan><tspan dy="4.9">:</tspan></text>
<line x1="170.4" y1="62.80" x2="203.4" y2="62.80" stroke="#f00" stroke-width="1.6"/>
<text x="206.8" y="67.90" font-size="14.6">T<tspan font-size="10.6" dy="2.8">g</tspan></text>
<line x1="227.9" y1="62.80" x2="261.2" y2="62.80" stroke="#f00" stroke-width="1.6" stroke-dasharray="6.6 6.7"/>
<text x="265.1" y="67.90" font-size="14.6">T<tspan font-size="10.6" dy="2.8">v</tspan></text>
<text x="122.2" y="91.10" font-size="14.6">4 m s<tspan font-size="10" dy="-4.9">-1</tspan><tspan dy="4.9">:</tspan></text>
<line x1="170.4" y1="86.00" x2="203.4" y2="86.00" stroke="#00f" stroke-width="1.6"/>
<text x="206.8" y="91.10" font-size="14.6">T<tspan font-size="10.6" dy="2.8">g</tspan></text>
<line x1="227.9" y1="86.00" x2="261.2" y2="86.00" stroke="#00f" stroke-width="1.6" stroke-dasharray="6.6 6.7"/>
<text x="265.1" y="91.10" font-size="14.6">T<tspan font-size="10.6" dy="2.8">v</tspan></text>
<line x1="497.0" y1="62.70" x2="529.0" y2="62.70" stroke="#000" stroke-width="1.6"/>
<text x="532.4" y="68.10" font-size="14.6">1 m s<tspan font-size="10" dy="-4.7">-1</tspan></text>
<line x1="497.0" y1="83.00" x2="529.0" y2="83.00" stroke="#f00" stroke-width="1.6"/>
<text x="532.4" y="88.40" font-size="14.6">2 m s<tspan font-size="10" dy="-4.7">-1</tspan></text>
<line x1="497.0" y1="102.60" x2="529.0" y2="102.60" stroke="#00f" stroke-width="1.6"/>
<text x="532.4" y="108.00" font-size="14.6">4 m s<tspan font-size="10" dy="-4.7">-1</tspan></text>
</svg></body></html>
